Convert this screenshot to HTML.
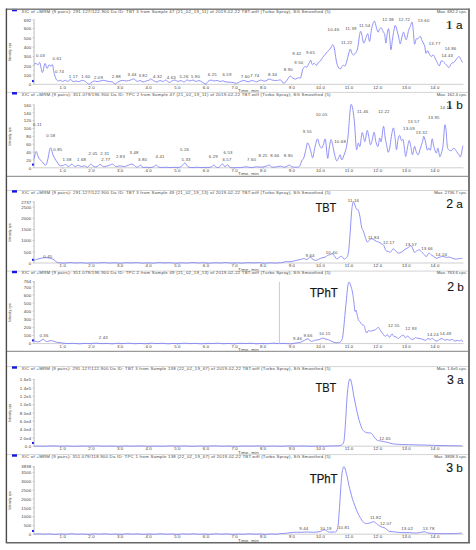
<!DOCTYPE html>
<html><head><meta charset="utf-8"><title>Chromatograms</title>
<style>html,body{margin:0;padding:0;background:#fff;}body{width:476px;height:550px;overflow:hidden;}svg{display:block;font-family:"Liberation Sans",sans-serif;}</style>
</head><body>
<svg width="476" height="550" viewBox="0 0 476 550">
<rect x="0" y="0" width="476" height="550" fill="#fff"/>
<line x1="6" y1="9.2" x2="469" y2="9.2" stroke="#d4d4d4" stroke-width="1"/>
<rect x="12" y="8.9" width="5" height="2.4" fill="#1414e6"/>
<text x="21.5" y="12.5" font-size="4.3" fill="#484848" textLength="309" lengthAdjust="spacing">XIC of +MRM (9 pairs): 291.127/122.900 Da ID: TBT 3 from Sample 47 (21_02_19_11) of 2019-02-22 TBT.wiff (Turbo Spray), SG Smoothed (5)</text>
<text x="467" y="12.5" font-size="4.3" fill="#484848" text-anchor="end">Max. 692.2 cps.</text>
<line x1="34.1" y1="19.4" x2="34.1" y2="84.3" stroke="#d0d0d0" stroke-width="1.4"/>
<line x1="33.2" y1="79.6" x2="34.2" y2="79.6" stroke="#b8b8b8" stroke-width="0.6"/>
<line x1="33.2" y1="70.3" x2="34.2" y2="70.3" stroke="#b8b8b8" stroke-width="0.6"/>
<line x1="33.2" y1="61.0" x2="34.2" y2="61.0" stroke="#b8b8b8" stroke-width="0.6"/>
<line x1="33.2" y1="51.7" x2="34.2" y2="51.7" stroke="#b8b8b8" stroke-width="0.6"/>
<line x1="33.2" y1="42.4" x2="34.2" y2="42.4" stroke="#b8b8b8" stroke-width="0.6"/>
<line x1="33.2" y1="33.1" x2="34.2" y2="33.1" stroke="#b8b8b8" stroke-width="0.6"/>
<line x1="33.2" y1="23.8" x2="34.2" y2="23.8" stroke="#b8b8b8" stroke-width="0.6"/>
<line x1="34.2" y1="84.3" x2="463.5" y2="84.3" stroke="#cfcfcf" stroke-width="1"/>
<line x1="32.6" y1="19.9" x2="34.2" y2="19.9" stroke="#b0b0b0" stroke-width="0.7"/>
<text x="31.3" y="21.7" font-size="4.3" fill="#3a3a3a" text-anchor="end" letter-spacing="0.15">692</text>
<line x1="32.6" y1="28.5" x2="34.2" y2="28.5" stroke="#b0b0b0" stroke-width="0.7"/>
<text x="31.3" y="30.3" font-size="4.3" fill="#3a3a3a" text-anchor="end" letter-spacing="0.15">600</text>
<line x1="32.6" y1="37.8" x2="34.2" y2="37.8" stroke="#b0b0b0" stroke-width="0.7"/>
<text x="31.3" y="39.6" font-size="4.3" fill="#3a3a3a" text-anchor="end" letter-spacing="0.15">500</text>
<line x1="32.6" y1="47.1" x2="34.2" y2="47.1" stroke="#b0b0b0" stroke-width="0.7"/>
<text x="31.3" y="48.9" font-size="4.3" fill="#3a3a3a" text-anchor="end" letter-spacing="0.15">400</text>
<line x1="32.6" y1="56.4" x2="34.2" y2="56.4" stroke="#b0b0b0" stroke-width="0.7"/>
<text x="31.3" y="58.2" font-size="4.3" fill="#3a3a3a" text-anchor="end" letter-spacing="0.15">300</text>
<line x1="32.6" y1="65.7" x2="34.2" y2="65.7" stroke="#b0b0b0" stroke-width="0.7"/>
<text x="31.3" y="67.5" font-size="4.3" fill="#3a3a3a" text-anchor="end" letter-spacing="0.15">200</text>
<line x1="32.6" y1="75.0" x2="34.2" y2="75.0" stroke="#b0b0b0" stroke-width="0.7"/>
<text x="31.3" y="76.8" font-size="4.3" fill="#3a3a3a" text-anchor="end" letter-spacing="0.15">100</text>
<line x1="32.6" y1="84.3" x2="34.2" y2="84.3" stroke="#b0b0b0" stroke-width="0.7"/>
<text x="31.3" y="86.1" font-size="4.3" fill="#3a3a3a" text-anchor="end" letter-spacing="0.15">0</text>
<line x1="62.8" y1="84.3" x2="62.8" y2="85.5" stroke="#b0b0b0" stroke-width="0.7"/>
<text x="62.8" y="88.5" font-size="4.3" fill="#3a3a3a" text-anchor="middle" letter-spacing="0.15">1.0</text>
<line x1="91.5" y1="84.3" x2="91.5" y2="85.5" stroke="#b0b0b0" stroke-width="0.7"/>
<text x="91.5" y="88.5" font-size="4.3" fill="#3a3a3a" text-anchor="middle" letter-spacing="0.15">2.0</text>
<line x1="120.1" y1="84.3" x2="120.1" y2="85.5" stroke="#b0b0b0" stroke-width="0.7"/>
<text x="120.1" y="88.5" font-size="4.3" fill="#3a3a3a" text-anchor="middle" letter-spacing="0.15">3.0</text>
<line x1="148.7" y1="84.3" x2="148.7" y2="85.5" stroke="#b0b0b0" stroke-width="0.7"/>
<text x="148.7" y="88.5" font-size="4.3" fill="#3a3a3a" text-anchor="middle" letter-spacing="0.15">4.0</text>
<line x1="177.4" y1="84.3" x2="177.4" y2="85.5" stroke="#b0b0b0" stroke-width="0.7"/>
<text x="177.4" y="88.5" font-size="4.3" fill="#3a3a3a" text-anchor="middle" letter-spacing="0.15">5.0</text>
<line x1="206.0" y1="84.3" x2="206.0" y2="85.5" stroke="#b0b0b0" stroke-width="0.7"/>
<text x="206.0" y="88.5" font-size="4.3" fill="#3a3a3a" text-anchor="middle" letter-spacing="0.15">6.0</text>
<line x1="234.6" y1="84.3" x2="234.6" y2="85.5" stroke="#b0b0b0" stroke-width="0.7"/>
<text x="234.6" y="88.5" font-size="4.3" fill="#3a3a3a" text-anchor="middle" letter-spacing="0.15">7.0</text>
<line x1="263.2" y1="84.3" x2="263.2" y2="85.5" stroke="#b0b0b0" stroke-width="0.7"/>
<text x="263.2" y="88.5" font-size="4.3" fill="#3a3a3a" text-anchor="middle" letter-spacing="0.15">8.0</text>
<line x1="291.9" y1="84.3" x2="291.9" y2="85.5" stroke="#b0b0b0" stroke-width="0.7"/>
<text x="291.9" y="88.5" font-size="4.3" fill="#3a3a3a" text-anchor="middle" letter-spacing="0.15">9.0</text>
<line x1="320.5" y1="84.3" x2="320.5" y2="85.5" stroke="#b0b0b0" stroke-width="0.7"/>
<text x="320.5" y="88.5" font-size="4.3" fill="#3a3a3a" text-anchor="middle" letter-spacing="0.15">10.0</text>
<line x1="349.1" y1="84.3" x2="349.1" y2="85.5" stroke="#b0b0b0" stroke-width="0.7"/>
<text x="349.1" y="88.5" font-size="4.3" fill="#3a3a3a" text-anchor="middle" letter-spacing="0.15">11.0</text>
<line x1="377.8" y1="84.3" x2="377.8" y2="85.5" stroke="#b0b0b0" stroke-width="0.7"/>
<text x="377.8" y="88.5" font-size="4.3" fill="#3a3a3a" text-anchor="middle" letter-spacing="0.15">12.0</text>
<line x1="406.4" y1="84.3" x2="406.4" y2="85.5" stroke="#b0b0b0" stroke-width="0.7"/>
<text x="406.4" y="88.5" font-size="4.3" fill="#3a3a3a" text-anchor="middle" letter-spacing="0.15">13.0</text>
<line x1="435.0" y1="84.3" x2="435.0" y2="85.5" stroke="#b0b0b0" stroke-width="0.7"/>
<text x="435.0" y="88.5" font-size="4.3" fill="#3a3a3a" text-anchor="middle" letter-spacing="0.15">14.0</text>
<text x="248.5" y="91.8" font-size="4.4" fill="#444" text-anchor="middle" letter-spacing="0.2">Time, min</text>
<text x="0" y="0" font-size="3.3" fill="#222" text-anchor="middle" textLength="18.2" lengthAdjust="spacingAndGlyphs" transform="translate(10.9,52.1) rotate(-90)">Intensity, cps</text>
<path d="M34.00,64.20C34.35,64.08 35.40,63.40 36.10,63.50C36.80,63.60 37.57,64.93 38.20,64.80C38.83,64.67 39.20,61.40 39.90,62.70C40.60,64.00 41.57,72.47 42.40,72.60C43.23,72.73 44.13,64.20 44.90,63.50C45.67,62.80 46.30,68.18 47.00,68.40C47.70,68.62 48.47,65.15 49.10,64.80C49.73,64.45 50.23,66.30 50.80,66.30C51.37,66.30 51.97,63.75 52.50,64.80C53.03,65.85 53.42,70.25 54.00,72.60C54.58,74.95 55.30,77.50 56.00,78.90C56.70,80.30 57.48,80.77 58.20,81.00C58.92,81.23 59.60,80.23 60.30,80.30C61.00,80.37 61.53,81.40 62.40,81.40C63.27,81.40 64.63,80.30 65.50,80.30C66.37,80.30 66.72,81.53 67.60,81.40C68.48,81.27 69.92,79.47 70.80,79.50C71.68,79.53 72.03,81.35 72.90,81.60C73.77,81.85 74.95,81.00 76.00,81.00C77.05,81.00 78.15,81.72 79.20,81.60C80.25,81.48 81.25,80.30 82.30,80.30C83.35,80.30 84.45,80.97 85.50,81.60C86.55,82.23 87.73,83.87 88.60,84.10C89.47,84.33 89.82,83.52 90.70,83.00C91.58,82.48 92.85,81.23 93.90,81.00C94.95,80.77 95.95,81.60 97.00,81.60C98.05,81.60 99.15,81.22 100.20,81.00C101.25,80.78 102.25,80.30 103.30,80.30C104.35,80.30 105.45,80.78 106.50,81.00C107.55,81.22 108.55,81.43 109.60,81.60C110.65,81.77 111.92,81.58 112.80,82.00C113.68,82.42 114.03,84.10 114.90,84.10C115.77,84.10 116.78,82.63 118.00,82.00C119.22,81.37 120.80,80.47 122.20,80.30C123.60,80.13 125.00,81.05 126.40,81.00C127.80,80.95 129.33,80.35 130.60,80.00C131.87,79.65 132.93,78.65 134.00,78.90C135.07,79.15 136.00,81.23 137.00,81.50C138.00,81.77 139.00,80.42 140.00,80.50C141.00,80.58 142.00,81.92 143.00,82.00C144.00,82.08 145.00,81.30 146.00,81.00C147.00,80.70 148.17,80.53 149.00,80.20C149.83,79.87 150.17,78.87 151.00,79.00C151.83,79.13 153.00,80.50 154.00,81.00C155.00,81.50 156.00,82.08 157.00,82.00C158.00,81.92 159.00,80.58 160.00,80.50C161.00,80.42 162.00,81.58 163.00,81.50C164.00,81.42 165.00,79.83 166.00,80.00C167.00,80.17 168.00,82.33 169.00,82.50C170.00,82.67 171.00,81.42 172.00,81.00C173.00,80.58 174.00,79.92 175.00,80.00C176.00,80.08 177.00,81.42 178.00,81.50C179.00,81.58 180.00,80.42 181.00,80.50C182.00,80.58 183.00,82.08 184.00,82.00C185.00,81.92 186.00,80.17 187.00,80.00C188.00,79.83 189.00,81.00 190.00,81.00C191.00,81.00 192.00,79.92 193.00,80.00C194.00,80.08 195.00,81.42 196.00,81.50C197.00,81.58 198.00,80.42 199.00,80.50C200.00,80.58 200.90,81.42 202.00,82.00C203.10,82.58 204.60,84.08 205.60,84.00C206.60,83.92 207.10,82.17 208.00,81.50C208.90,80.83 210.00,80.08 211.00,80.00C212.00,79.92 213.00,80.92 214.00,81.00C215.00,81.08 216.00,80.42 217.00,80.50C218.00,80.58 219.00,81.45 220.00,81.50C221.00,81.55 222.17,80.75 223.00,80.80C223.83,80.85 223.97,81.57 225.00,81.80C226.03,82.03 227.80,82.07 229.20,82.20C230.60,82.33 232.17,82.42 233.40,82.60C234.63,82.78 235.55,83.43 236.60,83.30C237.65,83.17 238.48,82.27 239.70,81.80C240.92,81.33 242.50,80.50 243.90,80.50C245.30,80.50 246.70,81.80 248.10,81.80C249.50,81.80 250.90,80.50 252.30,80.50C253.70,80.50 255.10,81.87 256.50,81.80C257.90,81.73 259.30,80.20 260.70,80.10C262.10,80.00 263.50,81.37 264.90,81.20C266.30,81.03 267.87,79.28 269.10,79.10C270.33,78.92 271.07,79.87 272.30,80.10C273.53,80.33 275.10,80.50 276.50,80.50C277.90,80.50 279.48,79.63 280.70,80.10C281.92,80.57 282.75,83.30 283.80,83.30C284.85,83.30 285.95,81.33 287.00,80.10C288.05,78.87 289.17,76.25 290.10,75.90C291.03,75.55 291.72,77.47 292.60,78.00C293.48,78.53 294.42,79.17 295.40,79.10C296.38,79.03 297.63,77.78 298.50,77.60C299.37,77.42 299.90,79.33 300.60,78.00C301.30,76.67 302.00,71.52 302.70,69.60C303.40,67.68 304.10,66.92 304.80,66.50C305.50,66.08 306.20,67.63 306.90,67.10C307.60,66.57 308.37,64.45 309.00,63.30C309.63,62.15 310.17,60.02 310.70,60.20C311.23,60.38 311.60,63.88 312.20,64.40C312.80,64.92 313.60,63.13 314.30,63.30C315.00,63.47 315.70,65.57 316.40,65.40C317.10,65.23 317.85,63.03 318.50,62.30C319.15,61.57 319.62,61.80 320.30,61.00C320.98,60.20 321.82,58.58 322.60,57.50C323.38,56.42 324.17,55.50 325.00,54.50C325.83,53.50 326.75,52.42 327.60,51.50C328.45,50.58 329.27,50.12 330.10,49.00C330.93,47.88 331.90,44.95 332.60,44.80C333.30,44.65 333.73,45.72 334.30,48.10C334.87,50.48 335.45,56.15 336.00,59.10C336.55,62.05 336.90,64.13 337.60,65.80C338.30,67.47 339.50,68.97 340.20,69.10C340.90,69.23 341.25,67.22 341.80,66.60C342.35,65.98 342.93,65.53 343.50,65.40C344.07,65.27 344.63,66.58 345.20,65.80C345.77,65.02 346.33,62.67 346.90,60.70C347.47,58.73 348.03,55.95 348.60,54.00C349.17,52.05 349.75,49.13 350.30,49.00C350.85,48.87 351.35,52.22 351.90,53.20C352.45,54.18 352.90,55.05 353.60,54.90C354.30,54.75 355.40,53.57 356.10,52.30C356.80,51.03 357.23,50.10 357.80,47.30C358.37,44.50 359.02,38.17 359.50,35.50C359.98,32.83 360.28,31.30 360.70,31.30C361.12,31.30 361.50,33.53 362.00,35.50C362.50,37.47 363.00,42.82 363.70,43.10C364.40,43.38 365.50,38.75 366.20,37.20C366.90,35.65 367.33,33.10 367.90,33.80C368.47,34.50 369.03,41.95 369.60,41.40C370.17,40.85 370.75,33.43 371.30,30.50C371.85,27.57 372.35,25.35 372.90,23.80C373.45,22.25 374.03,20.65 374.60,21.20C375.17,21.75 375.73,25.27 376.30,27.10C376.87,28.93 377.43,31.92 378.00,32.20C378.57,32.48 379.15,29.50 379.70,28.80C380.25,28.10 380.75,27.58 381.30,28.00C381.85,28.42 382.43,30.18 383.00,31.30C383.57,32.42 384.22,32.73 384.70,34.70C385.18,36.67 385.48,43.25 385.90,43.10C386.32,42.95 386.75,36.18 387.20,33.80C387.65,31.42 388.18,28.23 388.60,28.80C389.02,29.37 389.32,33.70 389.70,37.20C390.08,40.70 390.47,49.23 390.90,49.80C391.33,50.37 391.80,43.82 392.30,40.60C392.80,37.38 393.40,33.03 393.90,30.50C394.40,27.97 394.78,25.40 395.30,25.40C395.82,25.40 396.43,28.53 397.00,30.50C397.57,32.47 398.17,34.97 398.70,37.20C399.23,39.43 399.67,43.90 400.20,43.90C400.73,43.90 401.33,39.15 401.90,37.20C402.47,35.25 402.90,31.78 403.60,32.20C404.30,32.62 405.27,39.98 406.10,39.70C406.93,39.42 407.90,32.73 408.60,30.50C409.30,28.27 409.73,27.70 410.30,26.30C410.87,24.90 411.53,21.68 412.00,22.10C412.47,22.52 412.68,25.17 413.10,28.80C413.52,32.43 413.98,42.22 414.50,43.90C415.02,45.58 415.65,39.73 416.20,38.90C416.75,38.07 417.10,39.32 417.80,38.90C418.50,38.48 419.70,36.12 420.40,36.40C421.10,36.68 421.30,39.07 422.00,40.60C422.70,42.13 423.95,43.50 424.60,45.60C425.25,47.70 425.40,52.35 425.90,53.20C426.40,54.05 427.03,50.57 427.60,50.70C428.17,50.83 428.68,53.03 429.30,54.00C429.92,54.97 430.63,56.35 431.30,56.50C431.97,56.65 432.60,54.47 433.30,54.90C434.00,55.33 434.85,57.85 435.50,59.10C436.15,60.35 436.55,61.28 437.20,62.40C437.85,63.52 438.70,66.08 439.40,65.80C440.10,65.52 440.65,61.27 441.40,60.70C442.15,60.13 443.07,61.70 443.90,62.40C444.73,63.10 445.57,64.05 446.40,64.90C447.23,65.75 448.05,67.77 448.90,67.50C449.75,67.23 450.65,64.15 451.50,63.30C452.35,62.45 453.17,63.10 454.00,62.40C454.83,61.70 455.67,60.08 456.50,59.10C457.33,58.12 458.30,56.50 459.00,56.50C459.70,56.50 460.13,58.12 460.70,59.10C461.27,60.08 462.12,61.85 462.40,62.40" fill="none" stroke="#8484f6" stroke-width="0.9" stroke-linejoin="round"/>
<rect x="32" y="80.1" width="1.8" height="2" fill="#1414e6"/>
<text x="36.0" y="56.7" font-size="4.3" fill="#4a4a4a" letter-spacing="0.18">0.03</text>
<text x="52.5" y="60.0" font-size="4.3" fill="#4a4a4a" letter-spacing="0.18">0.61</text>
<text x="55.0" y="73.0" font-size="4.3" fill="#4a4a4a" letter-spacing="0.18">0.74</text>
<text x="68.7" y="77.6" font-size="4.3" fill="#4a4a4a" letter-spacing="0.18">1.17</text>
<text x="81.3" y="77.6" font-size="4.3" fill="#4a4a4a" letter-spacing="0.18">1.60</text>
<text x="93.9" y="78.9" font-size="4.3" fill="#4a4a4a" letter-spacing="0.18">2.09</text>
<text x="111.7" y="77.6" font-size="4.3" fill="#4a4a4a" letter-spacing="0.18">2.88</text>
<text x="127.5" y="76.0" font-size="4.3" fill="#4a4a4a" letter-spacing="0.18">3.44</text>
<text x="138.4" y="76.8" font-size="4.3" fill="#4a4a4a" letter-spacing="0.18">3.82</text>
<text x="153.1" y="77.8" font-size="4.3" fill="#4a4a4a" letter-spacing="0.18">4.32</text>
<text x="166.8" y="79.3" font-size="4.3" fill="#4a4a4a" letter-spacing="0.18">4.63</text>
<text x="179.4" y="78.3" font-size="4.3" fill="#4a4a4a" letter-spacing="0.18">5.26</text>
<text x="190.9" y="77.6" font-size="4.3" fill="#4a4a4a" letter-spacing="0.18">5.90</text>
<text x="207.7" y="75.7" font-size="4.3" fill="#4a4a4a" letter-spacing="0.18">6.25</text>
<text x="222.4" y="76.0" font-size="4.3" fill="#4a4a4a" letter-spacing="0.18">6.59</text>
<text x="240.8" y="77.8" font-size="4.3" fill="#4a4a4a" letter-spacing="0.18">7.60</text>
<text x="250.2" y="77.0" font-size="4.3" fill="#4a4a4a" letter-spacing="0.18">7.74</text>
<text x="268.0" y="76.4" font-size="4.3" fill="#4a4a4a" letter-spacing="0.18">8.34</text>
<text x="283.8" y="70.7" font-size="4.3" fill="#4a4a4a" letter-spacing="0.18">8.90</text>
<text x="292.2" y="54.9" font-size="4.3" fill="#4a4a4a" letter-spacing="0.18">9.42</text>
<text x="305.9" y="54.3" font-size="4.3" fill="#4a4a4a" letter-spacing="0.18">9.65</text>
<text x="294.3" y="64.4" font-size="4.3" fill="#4a4a4a" letter-spacing="0.18">9.50</text>
<text x="327.6" y="31.1" font-size="4.3" fill="#4a4a4a" letter-spacing="0.18">10.46</text>
<text x="341.0" y="44.1" font-size="4.3" fill="#4a4a4a" letter-spacing="0.18">11.22</text>
<text x="345.2" y="29.5" font-size="4.3" fill="#4a4a4a" letter-spacing="0.18">11.39</text>
<text x="359.0" y="26.9" font-size="4.3" fill="#4a4a4a" letter-spacing="0.18">11.54</text>
<text x="382.2" y="20.6" font-size="4.3" fill="#4a4a4a" letter-spacing="0.18">12.38</text>
<text x="398.5" y="20.6" font-size="4.3" fill="#4a4a4a" letter-spacing="0.18">12.72</text>
<text x="417.8" y="21.9" font-size="4.3" fill="#4a4a4a" letter-spacing="0.18">13.60</text>
<text x="428.8" y="44.6" font-size="4.3" fill="#4a4a4a" letter-spacing="0.18">13.77</text>
<text x="444.7" y="49.6" font-size="4.3" fill="#4a4a4a" letter-spacing="0.18">14.86</text>
<text x="441.4" y="56.9" font-size="4.3" fill="#4a4a4a" letter-spacing="0.18">14.43</text>
<text x="445.56" y="28.5" font-family="Liberation Serif" font-size="12.9" fill="#151515" stroke="#151515" stroke-width="0.12" textLength="7.61" lengthAdjust="spacingAndGlyphs">1</text>
<text x="456.05" y="28.5" font-size="11.8" fill="#151515" stroke="#151515" stroke-width="0.12">a</text>
<line x1="6" y1="92.4" x2="469" y2="92.4" stroke="#d4d4d4" stroke-width="1"/>
<rect x="12" y="92.1" width="5" height="2.4" fill="#1414e6"/>
<text x="21.5" y="95.7" font-size="4.3" fill="#484848" textLength="309" lengthAdjust="spacing">XIC of +MRM (9 pairs): 351.079/196.900 Da ID: TPC 2 from Sample 47 (21_02_19_11) of 2019-02-22 TBT.wiff (Turbo Spray), SG Smoothed (5)</text>
<text x="467" y="95.7" font-size="4.3" fill="#484848" text-anchor="end">Max. 162.4 cps.</text>
<line x1="34.1" y1="104.4" x2="34.1" y2="167.8" stroke="#d0d0d0" stroke-width="1.4"/>
<line x1="33.2" y1="163.9" x2="34.2" y2="163.9" stroke="#b8b8b8" stroke-width="0.6"/>
<line x1="33.2" y1="156.0" x2="34.2" y2="156.0" stroke="#b8b8b8" stroke-width="0.6"/>
<line x1="33.2" y1="148.1" x2="34.2" y2="148.1" stroke="#b8b8b8" stroke-width="0.6"/>
<line x1="33.2" y1="140.3" x2="34.2" y2="140.3" stroke="#b8b8b8" stroke-width="0.6"/>
<line x1="33.2" y1="132.4" x2="34.2" y2="132.4" stroke="#b8b8b8" stroke-width="0.6"/>
<line x1="33.2" y1="124.6" x2="34.2" y2="124.6" stroke="#b8b8b8" stroke-width="0.6"/>
<line x1="33.2" y1="116.7" x2="34.2" y2="116.7" stroke="#b8b8b8" stroke-width="0.6"/>
<line x1="33.2" y1="108.8" x2="34.2" y2="108.8" stroke="#b8b8b8" stroke-width="0.6"/>
<line x1="34.2" y1="167.8" x2="463.5" y2="167.8" stroke="#cfcfcf" stroke-width="1"/>
<line x1="32.6" y1="104.9" x2="34.2" y2="104.9" stroke="#b0b0b0" stroke-width="0.7"/>
<text x="31.3" y="106.7" font-size="4.3" fill="#3a3a3a" text-anchor="end" letter-spacing="0.15">160</text>
<line x1="32.6" y1="112.8" x2="34.2" y2="112.8" stroke="#b0b0b0" stroke-width="0.7"/>
<text x="31.3" y="114.6" font-size="4.3" fill="#3a3a3a" text-anchor="end" letter-spacing="0.15">140</text>
<line x1="32.6" y1="120.6" x2="34.2" y2="120.6" stroke="#b0b0b0" stroke-width="0.7"/>
<text x="31.3" y="122.4" font-size="4.3" fill="#3a3a3a" text-anchor="end" letter-spacing="0.15">120</text>
<line x1="32.6" y1="128.5" x2="34.2" y2="128.5" stroke="#b0b0b0" stroke-width="0.7"/>
<text x="31.3" y="130.3" font-size="4.3" fill="#3a3a3a" text-anchor="end" letter-spacing="0.15">100</text>
<line x1="32.6" y1="136.4" x2="34.2" y2="136.4" stroke="#b0b0b0" stroke-width="0.7"/>
<text x="31.3" y="138.2" font-size="4.3" fill="#3a3a3a" text-anchor="end" letter-spacing="0.15">80</text>
<line x1="32.6" y1="144.2" x2="34.2" y2="144.2" stroke="#b0b0b0" stroke-width="0.7"/>
<text x="31.3" y="146.0" font-size="4.3" fill="#3a3a3a" text-anchor="end" letter-spacing="0.15">60</text>
<line x1="32.6" y1="152.1" x2="34.2" y2="152.1" stroke="#b0b0b0" stroke-width="0.7"/>
<text x="31.3" y="153.9" font-size="4.3" fill="#3a3a3a" text-anchor="end" letter-spacing="0.15">40</text>
<line x1="32.6" y1="159.9" x2="34.2" y2="159.9" stroke="#b0b0b0" stroke-width="0.7"/>
<text x="31.3" y="161.7" font-size="4.3" fill="#3a3a3a" text-anchor="end" letter-spacing="0.15">20</text>
<line x1="32.6" y1="167.8" x2="34.2" y2="167.8" stroke="#b0b0b0" stroke-width="0.7"/>
<text x="31.3" y="169.6" font-size="4.3" fill="#3a3a3a" text-anchor="end" letter-spacing="0.15">0</text>
<line x1="62.8" y1="167.8" x2="62.8" y2="169.0" stroke="#b0b0b0" stroke-width="0.7"/>
<text x="62.8" y="172.0" font-size="4.3" fill="#3a3a3a" text-anchor="middle" letter-spacing="0.15">1.0</text>
<line x1="91.5" y1="167.8" x2="91.5" y2="169.0" stroke="#b0b0b0" stroke-width="0.7"/>
<text x="91.5" y="172.0" font-size="4.3" fill="#3a3a3a" text-anchor="middle" letter-spacing="0.15">2.0</text>
<line x1="120.1" y1="167.8" x2="120.1" y2="169.0" stroke="#b0b0b0" stroke-width="0.7"/>
<text x="120.1" y="172.0" font-size="4.3" fill="#3a3a3a" text-anchor="middle" letter-spacing="0.15">3.0</text>
<line x1="148.7" y1="167.8" x2="148.7" y2="169.0" stroke="#b0b0b0" stroke-width="0.7"/>
<text x="148.7" y="172.0" font-size="4.3" fill="#3a3a3a" text-anchor="middle" letter-spacing="0.15">4.0</text>
<line x1="177.4" y1="167.8" x2="177.4" y2="169.0" stroke="#b0b0b0" stroke-width="0.7"/>
<text x="177.4" y="172.0" font-size="4.3" fill="#3a3a3a" text-anchor="middle" letter-spacing="0.15">5.0</text>
<line x1="206.0" y1="167.8" x2="206.0" y2="169.0" stroke="#b0b0b0" stroke-width="0.7"/>
<text x="206.0" y="172.0" font-size="4.3" fill="#3a3a3a" text-anchor="middle" letter-spacing="0.15">6.0</text>
<line x1="234.6" y1="167.8" x2="234.6" y2="169.0" stroke="#b0b0b0" stroke-width="0.7"/>
<text x="234.6" y="172.0" font-size="4.3" fill="#3a3a3a" text-anchor="middle" letter-spacing="0.15">7.0</text>
<line x1="263.2" y1="167.8" x2="263.2" y2="169.0" stroke="#b0b0b0" stroke-width="0.7"/>
<text x="263.2" y="172.0" font-size="4.3" fill="#3a3a3a" text-anchor="middle" letter-spacing="0.15">8.0</text>
<line x1="291.9" y1="167.8" x2="291.9" y2="169.0" stroke="#b0b0b0" stroke-width="0.7"/>
<text x="291.9" y="172.0" font-size="4.3" fill="#3a3a3a" text-anchor="middle" letter-spacing="0.15">9.0</text>
<line x1="320.5" y1="167.8" x2="320.5" y2="169.0" stroke="#b0b0b0" stroke-width="0.7"/>
<text x="320.5" y="172.0" font-size="4.3" fill="#3a3a3a" text-anchor="middle" letter-spacing="0.15">10.0</text>
<line x1="349.1" y1="167.8" x2="349.1" y2="169.0" stroke="#b0b0b0" stroke-width="0.7"/>
<text x="349.1" y="172.0" font-size="4.3" fill="#3a3a3a" text-anchor="middle" letter-spacing="0.15">11.0</text>
<line x1="377.8" y1="167.8" x2="377.8" y2="169.0" stroke="#b0b0b0" stroke-width="0.7"/>
<text x="377.8" y="172.0" font-size="4.3" fill="#3a3a3a" text-anchor="middle" letter-spacing="0.15">12.0</text>
<line x1="406.4" y1="167.8" x2="406.4" y2="169.0" stroke="#b0b0b0" stroke-width="0.7"/>
<text x="406.4" y="172.0" font-size="4.3" fill="#3a3a3a" text-anchor="middle" letter-spacing="0.15">13.0</text>
<line x1="435.0" y1="167.8" x2="435.0" y2="169.0" stroke="#b0b0b0" stroke-width="0.7"/>
<text x="435.0" y="172.0" font-size="4.3" fill="#3a3a3a" text-anchor="middle" letter-spacing="0.15">14.0</text>
<text x="248.5" y="175.3" font-size="4.4" fill="#444" text-anchor="middle" letter-spacing="0.2">Time, min</text>
<text x="0" y="0" font-size="3.3" fill="#222" text-anchor="middle" textLength="18.2" lengthAdjust="spacingAndGlyphs" transform="translate(10.9,136.4) rotate(-90)">Intensity, cps</text>
<path d="M34.00,158.90C34.35,157.67 35.40,151.85 36.10,151.50C36.80,151.15 37.50,155.40 38.20,156.80C38.90,158.20 39.60,159.03 40.30,159.90C41.00,160.77 41.52,161.12 42.40,162.00C43.28,162.88 44.72,165.55 45.60,165.20C46.48,164.85 47.00,162.53 47.70,159.90C48.40,157.27 49.22,151.32 49.80,149.40C50.38,147.48 50.68,147.52 51.20,148.40C51.72,149.28 52.27,152.95 52.90,154.70C53.53,156.45 54.30,157.68 55.00,158.90C55.70,160.12 56.40,160.95 57.10,162.00C57.80,163.05 58.32,164.57 59.20,165.20C60.08,165.83 61.35,165.92 62.40,165.80C63.45,165.68 64.45,164.37 65.50,164.50C66.55,164.63 67.65,166.67 68.70,166.60C69.75,166.53 70.75,164.10 71.80,164.10C72.85,164.10 73.95,166.42 75.00,166.60C76.05,166.78 77.05,165.20 78.10,165.20C79.15,165.20 80.25,166.50 81.30,166.60C82.35,166.70 83.35,165.68 84.40,165.80C85.45,165.92 86.55,167.58 87.60,167.30C88.65,167.02 89.65,164.22 90.70,164.10C91.75,163.98 92.85,166.18 93.90,166.60C94.95,167.02 95.95,166.95 97.00,166.60C98.05,166.25 99.15,164.50 100.20,164.50C101.25,164.50 102.25,166.32 103.30,166.60C104.35,166.88 105.45,166.43 106.50,166.20C107.55,165.97 108.55,165.55 109.60,165.20C110.65,164.85 111.75,163.87 112.80,164.10C113.85,164.33 114.68,166.32 115.90,166.60C117.12,166.88 118.70,165.80 120.10,165.80C121.50,165.80 122.90,166.70 124.30,166.60C125.70,166.50 127.27,165.62 128.50,165.20C129.73,164.78 130.78,164.10 131.70,164.10C132.62,164.10 133.12,164.67 134.00,165.20C134.88,165.73 135.92,167.30 137.00,167.30C138.08,167.30 139.50,165.17 140.50,165.20C141.50,165.23 141.92,167.17 143.00,167.50C144.08,167.83 145.67,167.18 147.00,167.20C148.33,167.22 149.83,167.72 151.00,167.60C152.17,167.48 153.12,166.93 154.00,166.50C154.88,166.07 155.55,164.92 156.30,165.00C157.05,165.08 157.55,166.58 158.50,167.00C159.45,167.42 160.75,167.47 162.00,167.50C163.25,167.53 164.67,167.18 166.00,167.20C167.33,167.22 168.67,167.58 170.00,167.60C171.33,167.62 172.67,167.32 174.00,167.30C175.33,167.28 176.83,167.58 178.00,167.50C179.17,167.42 180.17,167.30 181.00,166.80C181.83,166.30 182.33,165.13 183.00,164.50C183.67,163.87 184.33,162.83 185.00,163.00C185.67,163.17 186.33,164.78 187.00,165.50C187.67,166.22 188.00,166.95 189.00,167.30C190.00,167.65 191.67,167.62 193.00,167.60C194.33,167.58 195.67,167.20 197.00,167.20C198.33,167.20 199.67,167.58 201.00,167.60C202.33,167.62 203.67,167.32 205.00,167.30C206.33,167.28 207.83,167.63 209.00,167.50C210.17,167.37 211.17,166.92 212.00,166.50C212.83,166.08 213.33,164.92 214.00,165.00C214.67,165.08 215.17,166.62 216.00,167.00C216.83,167.38 217.93,167.80 219.00,167.30C220.07,166.80 221.40,164.08 222.40,164.00C223.40,163.92 224.15,166.68 225.00,166.80C225.85,166.92 226.62,164.57 227.50,164.70C228.38,164.83 228.97,167.12 230.30,167.60C231.63,168.08 233.75,167.60 235.50,167.60C237.25,167.60 239.05,167.73 240.80,167.60C242.55,167.47 244.25,166.80 246.00,166.80C247.75,166.80 249.55,167.60 251.30,167.60C253.05,167.60 254.75,166.87 256.50,166.80C258.25,166.73 260.22,167.30 261.80,167.20C263.38,167.10 264.78,166.55 266.00,166.20C267.22,165.85 268.05,164.93 269.10,165.10C270.15,165.27 271.07,166.92 272.30,167.20C273.53,167.48 275.10,166.97 276.50,166.80C277.90,166.63 279.30,166.13 280.70,166.20C282.10,166.27 283.50,167.38 284.90,167.20C286.30,167.02 287.88,165.17 289.10,165.10C290.32,165.03 290.98,166.45 292.20,166.80C293.42,167.15 295.17,167.30 296.40,167.20C297.63,167.10 298.72,167.25 299.60,166.20C300.48,165.15 301.00,162.30 301.70,160.90C302.40,159.50 303.10,159.72 303.80,157.80C304.50,155.88 305.30,151.85 305.90,149.40C306.50,146.95 306.88,143.80 307.40,143.10C307.92,142.40 308.38,143.63 309.00,145.20C309.62,146.77 310.47,150.40 311.10,152.50C311.73,154.60 312.17,158.67 312.80,157.80C313.43,156.93 314.13,150.45 314.90,147.30C315.67,144.15 316.63,139.25 317.40,138.90C318.17,138.55 318.78,143.67 319.50,145.20C320.22,146.73 321.05,148.18 321.70,148.10C322.35,148.02 322.78,146.15 323.40,144.70C324.02,143.25 324.70,137.15 325.40,139.40C326.10,141.65 326.97,156.75 327.60,158.20C328.23,159.65 328.65,151.18 329.20,148.10C329.75,145.02 330.33,140.27 330.90,139.70C331.47,139.13 332.03,142.47 332.60,144.70C333.17,146.93 333.65,150.43 334.30,153.10C334.95,155.77 335.80,159.85 336.50,160.70C337.20,161.55 337.88,159.18 338.50,158.20C339.12,157.22 339.65,154.52 340.20,154.80C340.75,155.08 341.10,160.03 341.80,159.90C342.50,159.77 343.60,156.25 344.40,154.00C345.20,151.75 345.97,149.62 346.60,146.40C347.23,143.18 347.65,140.30 348.20,134.70C348.75,129.10 349.42,117.85 349.90,112.80C350.38,107.75 350.62,104.97 351.10,104.40C351.58,103.83 352.23,106.32 352.80,109.40C353.37,112.48 354.03,117.85 354.50,122.90C354.97,127.95 355.25,135.22 355.60,139.70C355.95,144.18 356.15,149.23 356.60,149.80C357.05,150.37 357.73,143.67 358.30,143.10C358.87,142.53 359.38,148.08 360.00,146.40C360.62,144.72 361.43,134.68 362.00,133.00C362.57,131.32 362.90,134.90 363.40,136.30C363.90,137.70 364.38,142.37 365.00,141.40C365.62,140.43 366.48,131.35 367.10,130.50C367.72,129.65 368.15,133.93 368.70,136.30C369.25,138.67 369.83,144.00 370.40,144.70C370.97,145.40 371.48,142.60 372.10,140.50C372.72,138.40 373.48,131.95 374.10,132.10C374.72,132.25 375.15,139.02 375.80,141.40C376.45,143.78 377.35,146.97 378.00,146.40C378.65,145.83 379.15,138.83 379.70,138.00C380.25,137.17 380.67,143.35 381.30,141.40C381.93,139.45 382.85,126.87 383.50,126.30C384.15,125.73 384.63,134.65 385.20,138.00C385.77,141.35 386.42,144.02 386.90,146.40C387.38,148.78 387.63,152.02 388.10,152.30C388.57,152.58 389.15,150.77 389.70,148.10C390.25,145.43 390.78,139.67 391.40,136.30C392.02,132.93 392.78,127.62 393.40,127.90C394.02,128.18 394.58,134.35 395.10,138.00C395.62,141.65 396.02,149.52 396.50,149.80C396.98,150.08 397.47,142.08 398.00,139.70C398.53,137.32 399.13,135.37 399.70,135.50C400.27,135.63 400.83,139.80 401.40,140.50C401.97,141.20 402.60,138.43 403.10,139.70C403.60,140.97 403.97,145.30 404.40,148.10C404.83,150.90 405.20,156.50 405.70,156.50C406.20,156.50 406.83,150.77 407.40,148.10C407.97,145.43 408.53,140.78 409.10,140.50C409.67,140.22 410.23,144.02 410.80,146.40C411.37,148.78 411.88,154.80 412.50,154.80C413.12,154.80 413.88,146.95 414.50,146.40C415.12,145.85 415.58,150.10 416.20,151.50C416.82,152.90 417.50,155.37 418.20,154.80C418.90,154.23 419.67,150.33 420.40,148.10C421.13,145.87 422.05,143.37 422.60,141.40C423.15,139.43 423.23,136.30 423.70,136.30C424.17,136.30 424.83,139.15 425.40,141.40C425.97,143.65 426.53,148.68 427.10,149.80C427.67,150.92 428.23,148.10 428.80,148.10C429.37,148.10 429.95,151.33 430.50,149.80C431.05,148.27 431.55,139.47 432.10,138.90C432.65,138.33 433.10,144.03 433.80,146.40C434.50,148.77 435.60,152.82 436.30,153.10C437.00,153.38 437.43,147.53 438.00,148.10C438.57,148.67 439.13,155.67 439.70,156.50C440.27,157.33 440.83,155.07 441.40,153.10C441.97,151.13 442.55,149.32 443.10,144.70C443.65,140.08 444.20,127.77 444.70,125.40C445.20,123.03 445.67,127.00 446.10,130.50C446.53,134.00 446.83,143.18 447.30,146.40C447.77,149.62 448.20,149.10 448.90,149.80C449.60,150.50 450.65,150.88 451.50,150.60C452.35,150.32 453.17,147.95 454.00,148.10C454.83,148.25 455.67,150.38 456.50,151.50C457.33,152.62 458.30,153.97 459.00,154.80C459.70,155.63 460.05,158.03 460.70,156.50C461.35,154.97 462.53,147.42 462.90,145.60" fill="none" stroke="#8484f6" stroke-width="0.9" stroke-linejoin="round"/>
<rect x="32" y="163.6" width="1.8" height="2" fill="#1414e6"/>
<text x="33.0" y="125.7" font-size="4.3" fill="#4a4a4a" letter-spacing="0.18">0.11</text>
<text x="46.2" y="136.8" font-size="4.3" fill="#4a4a4a" letter-spacing="0.18">0.58</text>
<text x="53.3" y="150.5" font-size="4.3" fill="#4a4a4a" letter-spacing="0.18">0.85</text>
<text x="62.4" y="160.8" font-size="4.3" fill="#4a4a4a" letter-spacing="0.18">1.38</text>
<text x="77.1" y="160.8" font-size="4.3" fill="#4a4a4a" letter-spacing="0.18">1.68</text>
<text x="88.6" y="154.5" font-size="4.3" fill="#4a4a4a" letter-spacing="0.18">2.05</text>
<text x="100.2" y="154.5" font-size="4.3" fill="#4a4a4a" letter-spacing="0.18">2.31</text>
<text x="101.2" y="160.8" font-size="4.3" fill="#4a4a4a" letter-spacing="0.18">2.77</text>
<text x="115.9" y="157.6" font-size="4.3" fill="#4a4a4a" letter-spacing="0.18">2.83</text>
<text x="129.6" y="154.3" font-size="4.3" fill="#4a4a4a" letter-spacing="0.18">3.48</text>
<text x="138.0" y="160.8" font-size="4.3" fill="#4a4a4a" letter-spacing="0.18">3.80</text>
<text x="155.6" y="157.6" font-size="4.3" fill="#4a4a4a" letter-spacing="0.18">4.41</text>
<text x="180.0" y="150.5" font-size="4.3" fill="#4a4a4a" letter-spacing="0.18">5.26</text>
<text x="181.5" y="160.8" font-size="4.3" fill="#4a4a4a" letter-spacing="0.18">5.33</text>
<text x="208.8" y="157.6" font-size="4.3" fill="#4a4a4a" letter-spacing="0.18">6.29</text>
<text x="223.5" y="154.1" font-size="4.3" fill="#4a4a4a" letter-spacing="0.18">6.53</text>
<text x="222.4" y="160.8" font-size="4.3" fill="#4a4a4a" letter-spacing="0.18">6.57</text>
<text x="247.0" y="160.7" font-size="4.3" fill="#4a4a4a" letter-spacing="0.18">7.60</text>
<text x="258.6" y="157.2" font-size="4.3" fill="#4a4a4a" letter-spacing="0.18">8.25</text>
<text x="270.2" y="157.2" font-size="4.3" fill="#4a4a4a" letter-spacing="0.18">8.66</text>
<text x="283.8" y="157.2" font-size="4.3" fill="#4a4a4a" letter-spacing="0.18">8.90</text>
<text x="302.7" y="133.4" font-size="4.3" fill="#4a4a4a" letter-spacing="0.18">9.55</text>
<text x="315.8" y="116.1" font-size="4.3" fill="#4a4a4a" letter-spacing="0.18">10.05</text>
<text x="334.3" y="143.2" font-size="4.3" fill="#4a4a4a" letter-spacing="0.18">10.68</text>
<text x="357.0" y="112.6" font-size="4.3" fill="#4a4a4a" letter-spacing="0.18">11.46</text>
<text x="378.0" y="112.6" font-size="4.3" fill="#4a4a4a" letter-spacing="0.18">12.22</text>
<text x="440.0" y="109.3" font-size="4.3" fill="#4a4a4a" letter-spacing="0.18">14.13</text>
<text x="407.8" y="123.0" font-size="4.3" fill="#4a4a4a" letter-spacing="0.18">13.57</text>
<text x="427.9" y="119.3" font-size="4.3" fill="#4a4a4a" letter-spacing="0.18">13.95</text>
<text x="403.1" y="129.8" font-size="4.3" fill="#4a4a4a" letter-spacing="0.18">13.09</text>
<text x="415.8" y="133.6" font-size="4.3" fill="#4a4a4a" letter-spacing="0.18">13.32</text>
<text x="445.86" y="108.6" font-family="Liberation Serif" font-size="12.9" fill="#151515" stroke="#151515" stroke-width="0.12" textLength="7.61" lengthAdjust="spacingAndGlyphs">1</text>
<text x="456.25" y="108.6" font-size="11.8" fill="#151515" stroke="#151515" stroke-width="0.12">b</text>
<line x1="6" y1="190.5" x2="469" y2="190.5" stroke="#d4d4d4" stroke-width="1"/>
<rect x="12" y="190.2" width="5" height="2.4" fill="#1414e6"/>
<text x="21.5" y="193.8" font-size="4.3" fill="#484848" textLength="309" lengthAdjust="spacing">XIC of +MRM (9 pairs): 291.127/122.900 Da ID: TBT 3 from Sample 49 (21_02_19_13) of 2019-02-22 TBT.wiff (Turbo Spray), SG Smoothed (5)</text>
<text x="467" y="193.8" font-size="4.3" fill="#484848" text-anchor="end">Max. 2736.7 cps.</text>
<line x1="34.1" y1="201.3" x2="34.1" y2="263.0" stroke="#d0d0d0" stroke-width="1.4"/>
<line x1="33.2" y1="257.4" x2="34.2" y2="257.4" stroke="#b8b8b8" stroke-width="0.6"/>
<line x1="33.2" y1="246.2" x2="34.2" y2="246.2" stroke="#b8b8b8" stroke-width="0.6"/>
<line x1="33.2" y1="235.0" x2="34.2" y2="235.0" stroke="#b8b8b8" stroke-width="0.6"/>
<line x1="33.2" y1="223.9" x2="34.2" y2="223.9" stroke="#b8b8b8" stroke-width="0.6"/>
<line x1="33.2" y1="212.7" x2="34.2" y2="212.7" stroke="#b8b8b8" stroke-width="0.6"/>
<line x1="34.2" y1="263.0" x2="463.5" y2="263.0" stroke="#cfcfcf" stroke-width="1"/>
<line x1="32.6" y1="201.8" x2="34.2" y2="201.8" stroke="#b0b0b0" stroke-width="0.7"/>
<text x="31.3" y="203.6" font-size="4.3" fill="#3a3a3a" text-anchor="end" letter-spacing="0.15">2737</text>
<line x1="32.6" y1="207.1" x2="34.2" y2="207.1" stroke="#b0b0b0" stroke-width="0.7"/>
<text x="31.3" y="208.9" font-size="4.3" fill="#3a3a3a" text-anchor="end" letter-spacing="0.15">2500</text>
<line x1="32.6" y1="218.3" x2="34.2" y2="218.3" stroke="#b0b0b0" stroke-width="0.7"/>
<text x="31.3" y="220.1" font-size="4.3" fill="#3a3a3a" text-anchor="end" letter-spacing="0.15">2000</text>
<line x1="32.6" y1="229.5" x2="34.2" y2="229.5" stroke="#b0b0b0" stroke-width="0.7"/>
<text x="31.3" y="231.3" font-size="4.3" fill="#3a3a3a" text-anchor="end" letter-spacing="0.15">1500</text>
<line x1="32.6" y1="240.6" x2="34.2" y2="240.6" stroke="#b0b0b0" stroke-width="0.7"/>
<text x="31.3" y="242.4" font-size="4.3" fill="#3a3a3a" text-anchor="end" letter-spacing="0.15">1000</text>
<line x1="32.6" y1="251.8" x2="34.2" y2="251.8" stroke="#b0b0b0" stroke-width="0.7"/>
<text x="31.3" y="253.6" font-size="4.3" fill="#3a3a3a" text-anchor="end" letter-spacing="0.15">500</text>
<line x1="32.6" y1="263.0" x2="34.2" y2="263.0" stroke="#b0b0b0" stroke-width="0.7"/>
<text x="31.3" y="264.8" font-size="4.3" fill="#3a3a3a" text-anchor="end" letter-spacing="0.15">0</text>
<line x1="62.8" y1="263.0" x2="62.8" y2="264.2" stroke="#b0b0b0" stroke-width="0.7"/>
<text x="62.8" y="267.2" font-size="4.3" fill="#3a3a3a" text-anchor="middle" letter-spacing="0.15">1.0</text>
<line x1="91.5" y1="263.0" x2="91.5" y2="264.2" stroke="#b0b0b0" stroke-width="0.7"/>
<text x="91.5" y="267.2" font-size="4.3" fill="#3a3a3a" text-anchor="middle" letter-spacing="0.15">2.0</text>
<line x1="120.1" y1="263.0" x2="120.1" y2="264.2" stroke="#b0b0b0" stroke-width="0.7"/>
<text x="120.1" y="267.2" font-size="4.3" fill="#3a3a3a" text-anchor="middle" letter-spacing="0.15">3.0</text>
<line x1="148.7" y1="263.0" x2="148.7" y2="264.2" stroke="#b0b0b0" stroke-width="0.7"/>
<text x="148.7" y="267.2" font-size="4.3" fill="#3a3a3a" text-anchor="middle" letter-spacing="0.15">4.0</text>
<line x1="177.4" y1="263.0" x2="177.4" y2="264.2" stroke="#b0b0b0" stroke-width="0.7"/>
<text x="177.4" y="267.2" font-size="4.3" fill="#3a3a3a" text-anchor="middle" letter-spacing="0.15">5.0</text>
<line x1="206.0" y1="263.0" x2="206.0" y2="264.2" stroke="#b0b0b0" stroke-width="0.7"/>
<text x="206.0" y="267.2" font-size="4.3" fill="#3a3a3a" text-anchor="middle" letter-spacing="0.15">6.0</text>
<line x1="234.6" y1="263.0" x2="234.6" y2="264.2" stroke="#b0b0b0" stroke-width="0.7"/>
<text x="234.6" y="267.2" font-size="4.3" fill="#3a3a3a" text-anchor="middle" letter-spacing="0.15">7.0</text>
<line x1="263.2" y1="263.0" x2="263.2" y2="264.2" stroke="#b0b0b0" stroke-width="0.7"/>
<text x="263.2" y="267.2" font-size="4.3" fill="#3a3a3a" text-anchor="middle" letter-spacing="0.15">8.0</text>
<line x1="291.9" y1="263.0" x2="291.9" y2="264.2" stroke="#b0b0b0" stroke-width="0.7"/>
<text x="291.9" y="267.2" font-size="4.3" fill="#3a3a3a" text-anchor="middle" letter-spacing="0.15">9.0</text>
<line x1="320.5" y1="263.0" x2="320.5" y2="264.2" stroke="#b0b0b0" stroke-width="0.7"/>
<text x="320.5" y="267.2" font-size="4.3" fill="#3a3a3a" text-anchor="middle" letter-spacing="0.15">10.0</text>
<line x1="349.1" y1="263.0" x2="349.1" y2="264.2" stroke="#b0b0b0" stroke-width="0.7"/>
<text x="349.1" y="267.2" font-size="4.3" fill="#3a3a3a" text-anchor="middle" letter-spacing="0.15">11.0</text>
<line x1="377.8" y1="263.0" x2="377.8" y2="264.2" stroke="#b0b0b0" stroke-width="0.7"/>
<text x="377.8" y="267.2" font-size="4.3" fill="#3a3a3a" text-anchor="middle" letter-spacing="0.15">12.0</text>
<line x1="406.4" y1="263.0" x2="406.4" y2="264.2" stroke="#b0b0b0" stroke-width="0.7"/>
<text x="406.4" y="267.2" font-size="4.3" fill="#3a3a3a" text-anchor="middle" letter-spacing="0.15">13.0</text>
<line x1="435.0" y1="263.0" x2="435.0" y2="264.2" stroke="#b0b0b0" stroke-width="0.7"/>
<text x="435.0" y="267.2" font-size="4.3" fill="#3a3a3a" text-anchor="middle" letter-spacing="0.15">14.0</text>
<text x="248.5" y="270.5" font-size="4.4" fill="#444" text-anchor="middle" letter-spacing="0.2">Time, min</text>
<text x="0" y="0" font-size="3.3" fill="#222" text-anchor="middle" textLength="18.2" lengthAdjust="spacingAndGlyphs" transform="translate(10.9,232.4) rotate(-90)">Intensity, cps</text>
<path d="M34.00,260.50C34.67,260.25 36.25,259.47 38.00,259.00C39.75,258.53 42.50,257.83 44.50,257.70C46.50,257.57 48.42,257.85 50.00,258.20C51.58,258.55 52.82,259.10 54.00,259.80C55.18,260.50 56.10,261.89 57.10,262.40C58.10,262.91 59.02,262.74 60.00,262.85C60.98,262.96 62.00,263.03 63.00,263.06C64.00,263.09 65.00,263.10 66.00,263.04C67.00,262.98 68.00,262.76 69.00,262.70C70.00,262.64 71.00,262.63 72.00,262.67C73.00,262.71 74.00,262.90 75.00,262.94C76.00,262.98 77.00,262.93 78.00,262.90C79.00,262.87 80.00,262.72 81.00,262.73C82.00,262.74 83.00,262.87 84.00,262.95C85.00,263.03 86.00,263.18 87.00,263.19C88.00,263.20 89.00,263.06 90.00,262.99C91.00,262.92 92.00,262.80 93.00,262.79C94.00,262.79 95.00,262.93 96.00,262.96C97.00,262.99 98.00,263.04 99.00,262.99C100.00,262.94 101.00,262.74 102.00,262.68C103.00,262.62 104.00,262.61 105.00,262.66C106.00,262.71 107.00,262.91 108.00,262.97C109.00,263.03 110.00,263.03 111.00,263.00C112.00,262.97 113.00,262.82 114.00,262.81C115.00,262.80 116.00,262.90 117.00,262.96C118.00,263.02 119.00,263.19 120.00,263.19C121.00,263.19 122.00,263.05 123.00,262.97C124.00,262.89 125.00,262.74 126.00,262.72C127.00,262.70 128.00,262.82 129.00,262.86C130.00,262.90 131.00,262.98 132.00,262.95C133.00,262.92 134.00,262.75 135.00,262.71C136.00,262.67 137.00,262.64 138.00,262.69C139.00,262.74 140.00,262.96 141.00,263.03C142.00,263.10 143.00,263.12 144.00,263.09C145.00,263.06 146.00,262.90 147.00,262.87C148.00,262.84 149.00,262.88 150.00,262.93C151.00,262.98 152.00,263.14 153.00,263.14C154.00,263.14 155.00,263.01 156.00,262.93C157.00,262.85 158.00,262.66 159.00,262.64C160.00,262.62 161.00,262.75 162.00,262.80C163.00,262.85 164.00,262.96 165.00,262.96C166.00,262.96 167.00,262.81 168.00,262.78C169.00,262.75 170.00,262.70 171.00,262.75C172.00,262.80 173.00,263.01 174.00,263.08C175.00,263.15 176.00,263.18 177.00,263.15C178.00,263.12 179.00,262.93 180.00,262.88C181.00,262.83 182.00,262.83 183.00,262.86C184.00,262.89 185.00,263.05 186.00,263.05C187.00,263.05 188.00,262.95 189.00,262.88C190.00,262.81 191.00,262.63 192.00,262.61C193.00,262.59 194.00,262.70 195.00,262.77C196.00,262.84 197.00,263.00 198.00,263.02C199.00,263.04 200.00,262.91 201.00,262.88C202.00,262.85 203.00,262.77 204.00,262.81C205.00,262.85 206.00,263.03 207.00,263.09C208.00,263.15 209.00,263.20 210.00,263.16C211.00,263.12 212.00,262.92 213.00,262.85C214.00,262.79 215.00,262.75 216.00,262.77C217.00,262.79 218.00,262.95 219.00,262.97C220.00,262.99 221.00,262.93 222.00,262.87C223.00,262.81 224.00,262.63 225.00,262.62C226.00,262.61 227.00,262.72 228.00,262.80C229.00,262.88 230.00,263.06 231.00,263.09C232.00,263.12 233.00,263.02 234.00,262.98C235.00,262.94 236.00,262.83 237.00,262.84C238.00,262.85 239.00,263.01 240.00,263.06C241.00,263.11 242.00,263.17 243.00,263.12C244.00,263.07 245.00,262.86 246.00,262.79C247.00,262.72 248.00,262.66 249.00,262.68C250.00,262.70 251.00,262.87 252.00,262.91C253.00,262.95 254.00,262.94 255.00,262.90C256.00,262.86 257.00,262.69 258.00,262.68C259.00,262.67 260.00,262.77 261.00,262.85C262.00,262.93 263.00,263.13 264.00,263.16C265.00,263.19 266.00,263.10 267.00,263.04C268.00,262.99 269.00,262.84 270.00,262.83C271.00,262.82 272.00,262.94 273.00,262.98C274.00,263.02 275.00,263.10 276.00,263.06C277.00,263.02 278.00,262.82 279.00,262.75C280.00,262.68 280.82,262.82 282.00,262.63C283.18,262.44 284.77,261.74 286.10,261.60C287.43,261.46 288.45,261.97 290.00,261.80C291.55,261.63 293.67,260.98 295.40,260.60C297.13,260.22 299.00,259.83 300.40,259.50C301.80,259.17 302.68,258.60 303.80,258.60C304.92,258.60 306.03,259.78 307.10,259.50C308.17,259.22 309.22,256.90 310.20,256.90C311.18,256.90 311.97,258.93 313.00,259.50C314.03,260.07 315.13,260.50 316.40,260.30C317.67,260.10 319.17,258.82 320.60,258.30C322.03,257.78 323.85,257.67 325.00,257.20C326.15,256.73 326.67,255.92 327.50,255.50C328.33,255.08 329.15,254.97 330.00,254.70C330.85,254.43 331.82,253.62 332.60,253.90C333.38,254.18 334.00,255.57 334.70,256.40C335.40,257.23 336.03,258.77 336.80,258.90C337.57,259.03 338.47,257.62 339.30,257.20C340.13,256.78 341.05,256.12 341.80,256.40C342.55,256.68 343.10,258.62 343.80,258.90C344.50,259.18 345.35,258.67 346.00,258.10C346.65,257.53 347.22,257.05 347.70,255.50C348.18,253.95 348.48,252.72 348.90,248.80C349.32,244.88 349.75,238.17 350.20,232.00C350.65,225.83 351.18,216.57 351.60,211.80C352.02,207.03 352.37,205.07 352.70,203.40C353.03,201.73 353.23,201.52 353.60,201.80C353.97,202.08 354.40,203.85 354.90,205.10C355.40,206.35 356.03,208.45 356.60,209.30C357.17,210.15 357.73,208.93 358.30,210.20C358.87,211.47 359.45,214.10 360.00,216.90C360.55,219.70 360.98,224.48 361.60,227.00C362.22,229.52 363.02,230.05 363.70,232.00C364.38,233.95 365.08,237.02 365.70,238.70C366.32,240.38 366.85,241.82 367.40,242.10C367.95,242.38 368.37,240.97 369.00,240.40C369.63,239.83 370.42,238.83 371.20,238.70C371.98,238.57 372.85,239.17 373.70,239.60C374.55,240.03 375.45,240.88 376.30,241.30C377.15,241.72 377.97,241.68 378.80,242.10C379.63,242.52 380.47,243.23 381.30,243.80C382.13,244.37 383.05,244.38 383.80,245.50C384.55,246.62 385.10,249.53 385.80,250.50C386.50,251.47 387.22,251.02 388.00,251.30C388.78,251.58 389.65,252.62 390.50,252.20C391.35,251.78 392.30,249.08 393.10,248.80C393.90,248.52 394.60,249.88 395.30,250.50C396.00,251.12 396.55,252.08 397.30,252.50C398.05,252.92 398.97,253.17 399.80,253.00C400.63,252.83 401.40,252.12 402.30,251.50C403.20,250.88 404.15,250.00 405.20,249.30C406.25,248.60 407.62,247.90 408.60,247.30C409.58,246.70 410.40,245.42 411.10,245.70C411.80,245.98 412.23,247.88 412.80,249.00C413.37,250.12 413.80,252.12 414.50,252.40C415.20,252.68 416.17,251.12 417.00,250.70C417.83,250.28 418.67,249.62 419.50,249.90C420.33,250.18 421.15,251.57 422.00,252.40C422.85,253.23 423.88,254.20 424.60,254.90C425.32,255.60 425.60,256.88 426.30,256.60C427.00,256.32 427.97,253.48 428.80,253.20C429.63,252.92 430.47,254.33 431.30,254.90C432.13,255.47 432.97,256.03 433.80,256.60C434.63,257.17 435.45,258.17 436.30,258.30C437.15,258.43 438.05,257.68 438.90,257.40C439.75,257.12 440.57,256.73 441.40,256.60C442.23,256.47 443.07,256.47 443.90,256.60C444.73,256.73 445.57,257.33 446.40,257.40C447.23,257.47 448.05,256.92 448.90,257.00C449.75,257.08 450.65,257.60 451.50,257.90C452.35,258.20 453.17,258.60 454.00,258.80C454.83,259.00 455.67,259.13 456.50,259.10C457.33,259.07 458.02,258.73 459.00,258.60C459.98,258.47 461.83,258.35 462.40,258.30" fill="none" stroke="#8484f6" stroke-width="0.9" stroke-linejoin="round"/>
<rect x="32" y="258.8" width="1.8" height="2" fill="#1414e6"/>
<text x="43.2" y="257.8" font-size="4.3" fill="#4a4a4a" letter-spacing="0.18">0.45</text>
<text x="305.5" y="256.8" font-size="4.3" fill="#4a4a4a" letter-spacing="0.18">9.64</text>
<text x="325.8" y="254.0" font-size="4.3" fill="#4a4a4a" letter-spacing="0.18">10.40</text>
<text x="347.7" y="201.6" font-size="4.3" fill="#4a4a4a" letter-spacing="0.18">11.16</text>
<text x="367.9" y="239.1" font-size="4.3" fill="#4a4a4a" letter-spacing="0.18">11.84</text>
<text x="383.0" y="243.9" font-size="4.3" fill="#4a4a4a" letter-spacing="0.18">12.17</text>
<text x="405.2" y="246.0" font-size="4.3" fill="#4a4a4a" letter-spacing="0.18">13.57</text>
<text x="421.2" y="250.2" font-size="4.3" fill="#4a4a4a" letter-spacing="0.18">13.66</text>
<text x="435.5" y="255.6" font-size="4.3" fill="#4a4a4a" letter-spacing="0.18">14.24</text>
<text x="446.25" y="208.4" font-size="12.3" fill="#151515" stroke="#151515" stroke-width="0.12">2</text>
<text x="456.25" y="208.4" font-size="11.8" fill="#151515" stroke="#151515" stroke-width="0.12">a</text>
<line x1="6" y1="271.1" x2="469" y2="271.1" stroke="#d4d4d4" stroke-width="1"/>
<rect x="12" y="270.8" width="5" height="2.4" fill="#1414e6"/>
<text x="21.5" y="274.4" font-size="4.3" fill="#484848" textLength="309" lengthAdjust="spacing">XIC of +MRM (9 pairs): 351.079/196.900 Da ID: TPC 2 from Sample 49 (21_02_19_13) of 2019-02-22 TBT.wiff (Turbo Spray), SG Smoothed (5)</text>
<text x="467" y="274.4" font-size="4.3" fill="#484848" text-anchor="end">Max. 763.6 cps.</text>
<line x1="34.1" y1="281.1" x2="34.1" y2="343.6" stroke="#d0d0d0" stroke-width="1.4"/>
<line x1="33.2" y1="339.5" x2="34.2" y2="339.5" stroke="#b8b8b8" stroke-width="0.6"/>
<line x1="33.2" y1="331.4" x2="34.2" y2="331.4" stroke="#b8b8b8" stroke-width="0.6"/>
<line x1="33.2" y1="323.3" x2="34.2" y2="323.3" stroke="#b8b8b8" stroke-width="0.6"/>
<line x1="33.2" y1="315.2" x2="34.2" y2="315.2" stroke="#b8b8b8" stroke-width="0.6"/>
<line x1="33.2" y1="307.1" x2="34.2" y2="307.1" stroke="#b8b8b8" stroke-width="0.6"/>
<line x1="33.2" y1="299.0" x2="34.2" y2="299.0" stroke="#b8b8b8" stroke-width="0.6"/>
<line x1="33.2" y1="290.9" x2="34.2" y2="290.9" stroke="#b8b8b8" stroke-width="0.6"/>
<line x1="33.2" y1="282.7" x2="34.2" y2="282.7" stroke="#b8b8b8" stroke-width="0.6"/>
<line x1="34.2" y1="343.6" x2="463.5" y2="343.6" stroke="#cfcfcf" stroke-width="1"/>
<line x1="32.6" y1="281.6" x2="34.2" y2="281.6" stroke="#b0b0b0" stroke-width="0.7"/>
<text x="31.3" y="283.4" font-size="4.3" fill="#3a3a3a" text-anchor="end" letter-spacing="0.15">764</text>
<line x1="32.6" y1="286.8" x2="34.2" y2="286.8" stroke="#b0b0b0" stroke-width="0.7"/>
<text x="31.3" y="288.6" font-size="4.3" fill="#3a3a3a" text-anchor="end" letter-spacing="0.15">700</text>
<line x1="32.6" y1="294.9" x2="34.2" y2="294.9" stroke="#b0b0b0" stroke-width="0.7"/>
<text x="31.3" y="296.7" font-size="4.3" fill="#3a3a3a" text-anchor="end" letter-spacing="0.15">600</text>
<line x1="32.6" y1="303.0" x2="34.2" y2="303.0" stroke="#b0b0b0" stroke-width="0.7"/>
<text x="31.3" y="304.8" font-size="4.3" fill="#3a3a3a" text-anchor="end" letter-spacing="0.15">500</text>
<line x1="32.6" y1="311.1" x2="34.2" y2="311.1" stroke="#b0b0b0" stroke-width="0.7"/>
<text x="31.3" y="312.9" font-size="4.3" fill="#3a3a3a" text-anchor="end" letter-spacing="0.15">400</text>
<line x1="32.6" y1="319.3" x2="34.2" y2="319.3" stroke="#b0b0b0" stroke-width="0.7"/>
<text x="31.3" y="321.1" font-size="4.3" fill="#3a3a3a" text-anchor="end" letter-spacing="0.15">300</text>
<line x1="32.6" y1="327.4" x2="34.2" y2="327.4" stroke="#b0b0b0" stroke-width="0.7"/>
<text x="31.3" y="329.2" font-size="4.3" fill="#3a3a3a" text-anchor="end" letter-spacing="0.15">200</text>
<line x1="32.6" y1="335.5" x2="34.2" y2="335.5" stroke="#b0b0b0" stroke-width="0.7"/>
<text x="31.3" y="337.3" font-size="4.3" fill="#3a3a3a" text-anchor="end" letter-spacing="0.15">100</text>
<line x1="32.6" y1="343.6" x2="34.2" y2="343.6" stroke="#b0b0b0" stroke-width="0.7"/>
<text x="31.3" y="345.4" font-size="4.3" fill="#3a3a3a" text-anchor="end" letter-spacing="0.15">0</text>
<line x1="62.8" y1="343.6" x2="62.8" y2="344.8" stroke="#b0b0b0" stroke-width="0.7"/>
<text x="62.8" y="347.8" font-size="4.3" fill="#3a3a3a" text-anchor="middle" letter-spacing="0.15">1.0</text>
<line x1="91.5" y1="343.6" x2="91.5" y2="344.8" stroke="#b0b0b0" stroke-width="0.7"/>
<text x="91.5" y="347.8" font-size="4.3" fill="#3a3a3a" text-anchor="middle" letter-spacing="0.15">2.0</text>
<line x1="120.1" y1="343.6" x2="120.1" y2="344.8" stroke="#b0b0b0" stroke-width="0.7"/>
<text x="120.1" y="347.8" font-size="4.3" fill="#3a3a3a" text-anchor="middle" letter-spacing="0.15">3.0</text>
<line x1="148.7" y1="343.6" x2="148.7" y2="344.8" stroke="#b0b0b0" stroke-width="0.7"/>
<text x="148.7" y="347.8" font-size="4.3" fill="#3a3a3a" text-anchor="middle" letter-spacing="0.15">4.0</text>
<line x1="177.4" y1="343.6" x2="177.4" y2="344.8" stroke="#b0b0b0" stroke-width="0.7"/>
<text x="177.4" y="347.8" font-size="4.3" fill="#3a3a3a" text-anchor="middle" letter-spacing="0.15">5.0</text>
<line x1="206.0" y1="343.6" x2="206.0" y2="344.8" stroke="#b0b0b0" stroke-width="0.7"/>
<text x="206.0" y="347.8" font-size="4.3" fill="#3a3a3a" text-anchor="middle" letter-spacing="0.15">6.0</text>
<line x1="234.6" y1="343.6" x2="234.6" y2="344.8" stroke="#b0b0b0" stroke-width="0.7"/>
<text x="234.6" y="347.8" font-size="4.3" fill="#3a3a3a" text-anchor="middle" letter-spacing="0.15">7.0</text>
<line x1="263.2" y1="343.6" x2="263.2" y2="344.8" stroke="#b0b0b0" stroke-width="0.7"/>
<text x="263.2" y="347.8" font-size="4.3" fill="#3a3a3a" text-anchor="middle" letter-spacing="0.15">8.0</text>
<line x1="291.9" y1="343.6" x2="291.9" y2="344.8" stroke="#b0b0b0" stroke-width="0.7"/>
<text x="291.9" y="347.8" font-size="4.3" fill="#3a3a3a" text-anchor="middle" letter-spacing="0.15">9.0</text>
<line x1="320.5" y1="343.6" x2="320.5" y2="344.8" stroke="#b0b0b0" stroke-width="0.7"/>
<text x="320.5" y="347.8" font-size="4.3" fill="#3a3a3a" text-anchor="middle" letter-spacing="0.15">10.0</text>
<line x1="349.1" y1="343.6" x2="349.1" y2="344.8" stroke="#b0b0b0" stroke-width="0.7"/>
<text x="349.1" y="347.8" font-size="4.3" fill="#3a3a3a" text-anchor="middle" letter-spacing="0.15">11.0</text>
<line x1="377.8" y1="343.6" x2="377.8" y2="344.8" stroke="#b0b0b0" stroke-width="0.7"/>
<text x="377.8" y="347.8" font-size="4.3" fill="#3a3a3a" text-anchor="middle" letter-spacing="0.15">12.0</text>
<line x1="406.4" y1="343.6" x2="406.4" y2="344.8" stroke="#b0b0b0" stroke-width="0.7"/>
<text x="406.4" y="347.8" font-size="4.3" fill="#3a3a3a" text-anchor="middle" letter-spacing="0.15">13.0</text>
<line x1="435.0" y1="343.6" x2="435.0" y2="344.8" stroke="#b0b0b0" stroke-width="0.7"/>
<text x="435.0" y="347.8" font-size="4.3" fill="#3a3a3a" text-anchor="middle" letter-spacing="0.15">14.0</text>
<text x="248.5" y="351.1" font-size="4.4" fill="#444" text-anchor="middle" letter-spacing="0.2">Time, min</text>
<text x="0" y="0" font-size="3.3" fill="#222" text-anchor="middle" textLength="18.2" lengthAdjust="spacingAndGlyphs" transform="translate(10.9,312.6) rotate(-90)">Intensity, cps</text>
<path d="M34.00,340.90C34.80,341.05 37.27,342.07 38.80,341.80C40.33,341.53 41.93,339.33 43.20,339.30C44.47,339.27 45.03,341.38 46.40,341.60C47.77,341.82 49.73,340.50 51.40,340.60C53.07,340.70 54.72,341.83 56.40,342.20C58.08,342.57 60.23,342.63 61.50,342.80C62.77,342.97 63.08,343.12 64.00,343.24C64.92,343.37 66.00,343.51 67.00,343.55C68.00,343.59 69.00,343.54 70.00,343.50C71.00,343.46 72.00,343.29 73.00,343.30C74.00,343.31 75.00,343.46 76.00,343.55C77.00,343.64 78.00,343.83 79.00,343.84C80.00,343.85 81.00,343.69 82.00,343.61C83.00,343.53 84.00,343.39 85.00,343.38C86.00,343.37 87.00,343.53 88.00,343.57C89.00,343.61 90.00,343.66 91.00,343.60C92.00,343.55 93.00,343.30 94.00,343.24C95.00,343.18 96.00,343.16 97.00,343.22C98.00,343.28 99.00,343.51 100.00,343.58C101.00,343.65 102.00,343.65 103.00,343.62C104.00,343.59 105.00,343.41 106.00,343.40C107.00,343.39 108.00,343.50 109.00,343.57C110.00,343.64 111.00,343.84 112.00,343.84C113.00,343.84 114.00,343.68 115.00,343.59C116.00,343.50 117.00,343.30 118.00,343.28C119.00,343.26 120.00,343.41 121.00,343.46C122.00,343.51 123.00,343.59 124.00,343.56C125.00,343.53 126.00,343.32 127.00,343.27C128.00,343.22 129.00,343.19 130.00,343.25C131.00,343.31 132.00,343.57 133.00,343.65C134.00,343.73 135.00,343.75 136.00,343.72C137.00,343.69 138.00,343.49 139.00,343.46C140.00,343.43 141.00,343.49 142.00,343.54C143.00,343.59 144.00,343.78 145.00,343.78C146.00,343.78 147.00,343.63 148.00,343.53C149.00,343.43 150.00,343.22 151.00,343.20C152.00,343.18 153.00,343.32 154.00,343.38C155.00,343.44 156.00,343.58 157.00,343.58C158.00,343.58 159.00,343.40 160.00,343.36C161.00,343.32 162.00,343.26 163.00,343.32C164.00,343.38 165.00,343.63 166.00,343.71C167.00,343.79 168.00,343.83 169.00,343.79C170.00,343.75 171.00,343.53 172.00,343.47C173.00,343.42 174.00,343.42 175.00,343.46C176.00,343.50 177.00,343.68 178.00,343.68C179.00,343.68 180.00,343.57 181.00,343.48C182.00,343.39 183.00,343.18 184.00,343.16C185.00,343.14 186.00,343.27 187.00,343.35C188.00,343.43 189.00,343.62 190.00,343.64C191.00,343.66 192.00,343.51 193.00,343.47C194.00,343.43 195.00,343.35 196.00,343.39C197.00,343.43 198.00,343.65 199.00,343.72C200.00,343.79 201.00,343.86 202.00,343.81C203.00,343.76 204.00,343.52 205.00,343.44C206.00,343.36 207.00,343.32 208.00,343.34C209.00,343.36 210.00,343.56 211.00,343.58C212.00,343.60 213.00,343.53 214.00,343.46C215.00,343.39 216.00,343.19 217.00,343.18C218.00,343.17 219.00,343.29 220.00,343.38C221.00,343.47 222.00,343.69 223.00,343.72C224.00,343.75 225.00,343.64 226.00,343.59C227.00,343.54 228.00,343.41 229.00,343.43C230.00,343.45 231.00,343.63 232.00,343.69C233.00,343.75 234.00,343.81 235.00,343.76C236.00,343.71 237.00,343.47 238.00,343.38C239.00,343.29 240.00,343.22 241.00,343.24C242.00,343.26 243.00,343.47 244.00,343.51C245.00,343.55 246.00,343.54 247.00,343.50C248.00,343.46 249.00,343.26 250.00,343.25C251.00,343.24 252.00,343.35 253.00,343.44C254.00,343.53 255.00,343.76 256.00,343.80C257.00,343.84 258.00,343.72 259.00,343.66C260.00,343.60 261.00,343.43 262.00,343.42C263.00,343.41 264.00,343.56 265.00,343.60C266.00,343.65 267.00,343.74 268.00,343.69C269.00,343.64 270.00,343.40 271.00,343.32C272.00,343.24 273.00,343.15 274.00,343.18C275.00,343.21 276.00,343.43 277.00,343.50C278.00,343.57 279.00,343.60 280.00,343.58C281.00,343.56 282.00,343.37 283.00,343.35C284.00,343.34 285.00,343.41 286.00,343.49C287.00,343.57 288.00,343.80 289.00,343.83C290.00,343.86 290.83,343.82 292.00,343.68C293.17,343.54 294.60,343.23 296.00,343.00C297.40,342.77 299.10,342.70 300.40,342.30C301.70,341.90 302.53,341.17 303.80,340.60C305.07,340.03 306.75,338.77 308.00,338.90C309.25,339.03 310.18,341.17 311.30,341.40C312.42,341.63 313.43,340.58 314.70,340.30C315.97,340.02 317.58,340.07 318.90,339.70C320.22,339.33 321.58,338.23 322.60,338.10C323.62,337.97 324.03,338.63 325.00,338.90C325.97,339.17 327.28,339.28 328.40,339.70C329.52,340.12 330.58,340.92 331.70,341.40C332.82,341.88 333.98,342.40 335.10,342.60C336.22,342.80 337.42,342.80 338.40,342.60C339.38,342.40 340.30,342.30 341.00,341.40C341.70,340.50 342.13,339.58 342.60,337.20C343.07,334.82 343.37,331.30 343.80,327.10C344.23,322.90 344.75,316.75 345.20,312.00C345.65,307.25 346.08,302.80 346.50,298.60C346.92,294.40 347.30,289.55 347.70,286.80C348.10,284.05 348.48,282.52 348.90,282.10C349.32,281.68 349.75,283.23 350.20,284.30C350.65,285.37 351.18,286.97 351.60,288.50C352.02,290.03 352.32,291.27 352.70,293.50C353.08,295.73 353.53,298.95 353.90,301.90C354.27,304.85 354.53,309.80 354.90,311.20C355.27,312.60 355.70,309.60 356.10,310.30C356.50,311.00 356.88,313.72 357.30,315.40C357.72,317.08 358.10,319.28 358.60,320.40C359.10,321.52 359.73,321.40 360.30,322.10C360.87,322.80 361.38,324.03 362.00,324.60C362.62,325.17 363.45,324.65 364.00,325.50C364.55,326.35 364.85,328.45 365.30,329.70C365.75,330.95 366.18,332.87 366.70,333.00C367.22,333.13 367.78,330.78 368.40,330.50C369.02,330.22 369.65,331.30 370.40,331.30C371.15,331.30 372.07,330.77 372.90,330.50C373.73,330.23 374.48,330.20 375.40,329.70C376.32,329.20 377.55,327.37 378.40,327.50C379.25,327.63 379.73,329.43 380.50,330.50C381.27,331.57 382.22,332.92 383.00,333.90C383.78,334.88 384.50,336.27 385.20,336.40C385.90,336.53 386.45,334.57 387.20,334.70C387.95,334.83 388.92,337.33 389.70,337.20C390.48,337.07 391.20,334.03 391.90,333.90C392.60,333.77 393.15,335.85 393.90,336.40C394.65,336.95 395.63,336.83 396.40,337.20C397.17,337.57 397.73,338.78 398.50,338.60C399.27,338.42 400.15,336.67 401.00,336.10C401.85,335.53 402.90,334.93 403.60,335.20C404.30,335.47 404.50,337.55 405.20,337.70C405.90,337.85 406.95,335.95 407.80,336.10C408.65,336.25 409.47,338.05 410.30,338.60C411.13,339.15 411.97,339.55 412.80,339.40C413.63,339.25 414.47,337.88 415.30,337.70C416.13,337.52 416.95,338.15 417.80,338.30C418.65,338.45 419.55,338.42 420.40,338.60C421.25,338.78 422.07,339.12 422.90,339.40C423.73,339.68 424.57,340.43 425.40,340.30C426.23,340.17 427.05,338.75 427.90,338.60C428.75,338.45 429.80,339.45 430.50,339.40C431.20,339.35 431.40,338.15 432.10,338.30C432.80,338.45 433.85,339.83 434.70,340.30C435.55,340.77 436.37,341.25 437.20,341.10C438.03,340.95 438.87,339.82 439.70,339.40C440.53,338.98 441.37,338.45 442.20,338.60C443.03,338.75 443.85,340.17 444.70,340.30C445.55,340.43 446.45,339.40 447.30,339.40C448.15,339.40 448.97,340.30 449.80,340.30C450.63,340.30 451.47,339.27 452.30,339.40C453.13,339.53 453.97,340.95 454.80,341.10C455.63,341.25 456.45,340.30 457.30,340.30C458.15,340.30 459.20,341.17 459.90,341.10C460.60,341.03 461.00,339.75 461.50,339.90C462.00,340.05 462.67,341.65 462.90,342.00" fill="none" stroke="#8484f6" stroke-width="0.9" stroke-linejoin="round"/>
<rect x="32" y="339.4" width="1.8" height="2" fill="#1414e6"/>
<text x="39.4" y="336.8" font-size="4.3" fill="#4a4a4a" letter-spacing="0.18">0.36</text>
<text x="98.7" y="339.3" font-size="4.3" fill="#4a4a4a" letter-spacing="0.18">2.43</text>
<text x="292.9" y="340.4" font-size="4.3" fill="#4a4a4a" letter-spacing="0.18">9.46</text>
<text x="303.4" y="337.0" font-size="4.3" fill="#4a4a4a" letter-spacing="0.18">9.66</text>
<text x="318.9" y="335.0" font-size="4.3" fill="#4a4a4a" letter-spacing="0.18">10.15</text>
<text x="388.0" y="327.3" font-size="4.3" fill="#4a4a4a" letter-spacing="0.18">12.55</text>
<text x="405.2" y="330.3" font-size="4.3" fill="#4a4a4a" letter-spacing="0.18">12.93</text>
<text x="427.1" y="335.9" font-size="4.3" fill="#4a4a4a" letter-spacing="0.18">14.24</text>
<text x="439.7" y="335.0" font-size="4.3" fill="#4a4a4a" letter-spacing="0.18">14.49</text>
<text x="447.15" y="290.5" font-size="12.3" fill="#151515" stroke="#151515" stroke-width="0.12">2</text>
<text x="457.35" y="290.5" font-size="11.8" fill="#151515" stroke="#151515" stroke-width="0.12">b</text>
<line x1="6" y1="366.6" x2="469" y2="366.6" stroke="#d4d4d4" stroke-width="1"/>
<rect x="12" y="366.3" width="5" height="2.4" fill="#1414e6"/>
<text x="21.5" y="369.9" font-size="4.3" fill="#484848" textLength="309" lengthAdjust="spacing">XIC of +MRM (9 pairs): 291.127/122.900 Da ID: TBT 3 from Sample 138 (22_02_19_67) of 2019-02-22 TBT.wiff (Turbo Spray), SG Smoothed (5)</text>
<text x="467" y="369.9" font-size="4.3" fill="#484848" text-anchor="end">Max. 1.6e5 cps.</text>
<line x1="34.1" y1="379.1" x2="34.1" y2="446.2" stroke="#d0d0d0" stroke-width="1.4"/>
<line x1="33.2" y1="442.0" x2="34.2" y2="442.0" stroke="#b8b8b8" stroke-width="0.6"/>
<line x1="33.2" y1="433.7" x2="34.2" y2="433.7" stroke="#b8b8b8" stroke-width="0.6"/>
<line x1="33.2" y1="425.4" x2="34.2" y2="425.4" stroke="#b8b8b8" stroke-width="0.6"/>
<line x1="33.2" y1="417.1" x2="34.2" y2="417.1" stroke="#b8b8b8" stroke-width="0.6"/>
<line x1="33.2" y1="408.7" x2="34.2" y2="408.7" stroke="#b8b8b8" stroke-width="0.6"/>
<line x1="33.2" y1="400.4" x2="34.2" y2="400.4" stroke="#b8b8b8" stroke-width="0.6"/>
<line x1="33.2" y1="392.1" x2="34.2" y2="392.1" stroke="#b8b8b8" stroke-width="0.6"/>
<line x1="33.2" y1="383.8" x2="34.2" y2="383.8" stroke="#b8b8b8" stroke-width="0.6"/>
<line x1="34.2" y1="446.2" x2="463.5" y2="446.2" stroke="#cfcfcf" stroke-width="1"/>
<line x1="32.6" y1="379.6" x2="34.2" y2="379.6" stroke="#b0b0b0" stroke-width="0.7"/>
<text x="31.3" y="381.4" font-size="4.3" fill="#3a3a3a" text-anchor="end" letter-spacing="0.15">1.6e5</text>
<line x1="32.6" y1="387.9" x2="34.2" y2="387.9" stroke="#b0b0b0" stroke-width="0.7"/>
<text x="31.3" y="389.7" font-size="4.3" fill="#3a3a3a" text-anchor="end" letter-spacing="0.15">1.4e5</text>
<line x1="32.6" y1="396.2" x2="34.2" y2="396.2" stroke="#b0b0b0" stroke-width="0.7"/>
<text x="31.3" y="398.1" font-size="4.3" fill="#3a3a3a" text-anchor="end" letter-spacing="0.15">1.2e5</text>
<line x1="32.6" y1="404.6" x2="34.2" y2="404.6" stroke="#b0b0b0" stroke-width="0.7"/>
<text x="31.3" y="406.4" font-size="4.3" fill="#3a3a3a" text-anchor="end" letter-spacing="0.15">1.0e5</text>
<line x1="32.6" y1="412.9" x2="34.2" y2="412.9" stroke="#b0b0b0" stroke-width="0.7"/>
<text x="31.3" y="414.7" font-size="4.3" fill="#3a3a3a" text-anchor="end" letter-spacing="0.15">8.0e4</text>
<line x1="32.6" y1="421.2" x2="34.2" y2="421.2" stroke="#b0b0b0" stroke-width="0.7"/>
<text x="31.3" y="423.0" font-size="4.3" fill="#3a3a3a" text-anchor="end" letter-spacing="0.15">6.0e4</text>
<line x1="32.6" y1="429.6" x2="34.2" y2="429.6" stroke="#b0b0b0" stroke-width="0.7"/>
<text x="31.3" y="431.4" font-size="4.3" fill="#3a3a3a" text-anchor="end" letter-spacing="0.15">4.0e4</text>
<line x1="32.6" y1="437.9" x2="34.2" y2="437.9" stroke="#b0b0b0" stroke-width="0.7"/>
<text x="31.3" y="439.7" font-size="4.3" fill="#3a3a3a" text-anchor="end" letter-spacing="0.15">2.0e4</text>
<line x1="32.6" y1="446.2" x2="34.2" y2="446.2" stroke="#b0b0b0" stroke-width="0.7"/>
<text x="31.3" y="448.0" font-size="4.3" fill="#3a3a3a" text-anchor="end" letter-spacing="0.15">0.0</text>
<line x1="62.8" y1="446.2" x2="62.8" y2="447.4" stroke="#b0b0b0" stroke-width="0.7"/>
<text x="62.8" y="450.4" font-size="4.3" fill="#3a3a3a" text-anchor="middle" letter-spacing="0.15">1.0</text>
<line x1="91.5" y1="446.2" x2="91.5" y2="447.4" stroke="#b0b0b0" stroke-width="0.7"/>
<text x="91.5" y="450.4" font-size="4.3" fill="#3a3a3a" text-anchor="middle" letter-spacing="0.15">2.0</text>
<line x1="120.1" y1="446.2" x2="120.1" y2="447.4" stroke="#b0b0b0" stroke-width="0.7"/>
<text x="120.1" y="450.4" font-size="4.3" fill="#3a3a3a" text-anchor="middle" letter-spacing="0.15">3.0</text>
<line x1="148.7" y1="446.2" x2="148.7" y2="447.4" stroke="#b0b0b0" stroke-width="0.7"/>
<text x="148.7" y="450.4" font-size="4.3" fill="#3a3a3a" text-anchor="middle" letter-spacing="0.15">4.0</text>
<line x1="177.4" y1="446.2" x2="177.4" y2="447.4" stroke="#b0b0b0" stroke-width="0.7"/>
<text x="177.4" y="450.4" font-size="4.3" fill="#3a3a3a" text-anchor="middle" letter-spacing="0.15">5.0</text>
<line x1="206.0" y1="446.2" x2="206.0" y2="447.4" stroke="#b0b0b0" stroke-width="0.7"/>
<text x="206.0" y="450.4" font-size="4.3" fill="#3a3a3a" text-anchor="middle" letter-spacing="0.15">6.0</text>
<line x1="234.6" y1="446.2" x2="234.6" y2="447.4" stroke="#b0b0b0" stroke-width="0.7"/>
<text x="234.6" y="450.4" font-size="4.3" fill="#3a3a3a" text-anchor="middle" letter-spacing="0.15">7.0</text>
<line x1="263.2" y1="446.2" x2="263.2" y2="447.4" stroke="#b0b0b0" stroke-width="0.7"/>
<text x="263.2" y="450.4" font-size="4.3" fill="#3a3a3a" text-anchor="middle" letter-spacing="0.15">8.0</text>
<line x1="291.9" y1="446.2" x2="291.9" y2="447.4" stroke="#b0b0b0" stroke-width="0.7"/>
<text x="291.9" y="450.4" font-size="4.3" fill="#3a3a3a" text-anchor="middle" letter-spacing="0.15">9.0</text>
<line x1="320.5" y1="446.2" x2="320.5" y2="447.4" stroke="#b0b0b0" stroke-width="0.7"/>
<text x="320.5" y="450.4" font-size="4.3" fill="#3a3a3a" text-anchor="middle" letter-spacing="0.15">10.0</text>
<line x1="349.1" y1="446.2" x2="349.1" y2="447.4" stroke="#b0b0b0" stroke-width="0.7"/>
<text x="349.1" y="450.4" font-size="4.3" fill="#3a3a3a" text-anchor="middle" letter-spacing="0.15">11.0</text>
<line x1="377.8" y1="446.2" x2="377.8" y2="447.4" stroke="#b0b0b0" stroke-width="0.7"/>
<text x="377.8" y="450.4" font-size="4.3" fill="#3a3a3a" text-anchor="middle" letter-spacing="0.15">12.0</text>
<line x1="406.4" y1="446.2" x2="406.4" y2="447.4" stroke="#b0b0b0" stroke-width="0.7"/>
<text x="406.4" y="450.4" font-size="4.3" fill="#3a3a3a" text-anchor="middle" letter-spacing="0.15">13.0</text>
<line x1="435.0" y1="446.2" x2="435.0" y2="447.4" stroke="#b0b0b0" stroke-width="0.7"/>
<text x="435.0" y="450.4" font-size="4.3" fill="#3a3a3a" text-anchor="middle" letter-spacing="0.15">14.0</text>
<text x="248.5" y="453.7" font-size="4.4" fill="#444" text-anchor="middle" letter-spacing="0.2">Time, min</text>
<text x="0" y="0" font-size="3.3" fill="#222" text-anchor="middle" textLength="18.2" lengthAdjust="spacingAndGlyphs" transform="translate(10.9,412.9) rotate(-90)">Intensity, cps</text>
<path d="M34.00,446.15C34.67,446.13 36.67,446.05 38.00,446.06C39.33,446.07 40.67,446.19 42.00,446.21C43.33,446.23 44.67,446.24 46.00,446.20C47.33,446.16 48.67,446.01 50.00,445.97C51.33,445.93 52.67,445.92 54.00,445.95C55.33,445.98 56.67,446.11 58.00,446.13C59.33,446.15 60.67,446.12 62.00,446.10C63.33,446.08 64.67,445.99 66.00,445.99C67.33,446.00 68.67,446.08 70.00,446.13C71.33,446.18 72.67,446.30 74.00,446.30C75.33,446.31 76.67,446.21 78.00,446.16C79.33,446.12 80.67,446.03 82.00,446.03C83.33,446.03 84.67,446.12 86.00,446.14C87.33,446.16 88.67,446.19 90.00,446.16C91.33,446.13 92.67,445.99 94.00,445.95C95.33,445.91 96.67,445.91 98.00,445.94C99.33,445.97 100.67,446.11 102.00,446.15C103.33,446.19 104.67,446.19 106.00,446.17C107.33,446.15 108.67,446.05 110.00,446.04C111.33,446.04 112.67,446.10 114.00,446.14C115.33,446.18 116.67,446.29 118.00,446.29C119.33,446.29 120.67,446.20 122.00,446.15C123.33,446.10 124.67,445.99 126.00,445.98C127.33,445.97 128.67,446.05 130.00,446.08C131.33,446.11 132.67,446.16 134.00,446.14C135.33,446.12 136.67,446.00 138.00,445.97C139.33,445.94 140.67,445.92 142.00,445.96C143.33,446.00 144.67,446.13 146.00,446.18C147.33,446.23 148.67,446.25 150.00,446.23C151.33,446.21 152.67,446.10 154.00,446.08C155.33,446.06 156.67,446.09 158.00,446.12C159.33,446.15 160.67,446.26 162.00,446.26C163.33,446.26 164.67,446.18 166.00,446.12C167.33,446.06 168.67,445.94 170.00,445.93C171.33,445.92 172.67,446.00 174.00,446.03C175.33,446.06 176.67,446.14 178.00,446.14C179.33,446.14 180.67,446.04 182.00,446.02C183.33,446.00 184.67,445.97 186.00,446.00C187.33,446.03 188.67,446.18 190.00,446.22C191.33,446.27 192.67,446.29 194.00,446.27C195.33,446.25 196.67,446.11 198.00,446.08C199.33,446.05 200.67,446.05 202.00,446.07C203.33,446.09 204.67,446.20 206.00,446.20C207.33,446.20 208.67,446.14 210.00,446.09C211.33,446.04 212.67,445.91 214.00,445.90C215.33,445.89 216.67,445.97 218.00,446.02C219.33,446.07 220.67,446.17 222.00,446.18C223.33,446.19 224.67,446.11 226.00,446.09C227.33,446.07 228.67,446.02 230.00,446.04C231.33,446.06 232.67,446.19 234.00,446.23C235.33,446.27 236.67,446.30 238.00,446.27C239.33,446.24 240.67,446.10 242.00,446.06C243.33,446.02 244.67,446.00 246.00,446.01C247.33,446.02 248.67,446.13 250.00,446.14C251.33,446.15 252.67,446.12 254.00,446.08C255.33,446.04 256.67,445.92 258.00,445.91C259.33,445.90 260.67,445.98 262.00,446.03C263.33,446.08 264.67,446.21 266.00,446.23C267.33,446.25 268.67,446.18 270.00,446.15C271.33,446.12 272.67,446.05 274.00,446.06C275.33,446.07 276.67,446.18 278.00,446.21C279.33,446.24 280.67,446.28 282.00,446.25C283.33,446.22 284.67,446.08 286.00,446.03C287.33,445.98 288.67,445.94 290.00,445.95C291.33,445.96 292.67,446.09 294.00,446.11C295.33,446.13 296.67,446.12 298.00,446.10C299.33,446.08 300.67,445.97 302.00,445.96C303.33,445.95 304.67,446.01 306.00,446.06C307.33,446.11 308.67,446.25 310.00,446.27C311.33,446.29 312.67,446.23 314.00,446.19C315.33,446.15 316.67,446.06 318.00,446.05C319.33,446.04 320.67,446.12 322.00,446.15C323.33,446.18 324.67,446.23 326.00,446.21C327.33,446.19 328.67,446.05 330.00,446.00C331.33,445.95 332.28,446.00 334.00,445.92C335.72,445.84 338.73,445.99 340.30,445.50C341.87,445.01 342.70,444.53 343.40,443.00C344.10,441.47 344.12,440.22 344.50,436.30C344.88,432.38 345.28,425.95 345.70,419.50C346.12,413.05 346.55,403.48 347.00,397.60C347.45,391.72 347.97,387.28 348.40,384.20C348.83,381.12 349.20,379.80 349.60,379.10C350.00,378.40 350.38,378.88 350.80,380.00C351.22,381.12 351.60,383.15 352.10,385.80C352.60,388.45 353.18,392.53 353.80,395.90C354.42,399.27 355.10,402.63 355.80,406.00C356.50,409.37 357.27,413.15 358.00,416.10C358.73,419.05 359.45,421.47 360.20,423.70C360.95,425.93 361.67,428.10 362.50,429.50C363.33,430.90 364.27,431.53 365.20,432.10C366.13,432.67 367.20,432.77 368.10,432.90C369.00,433.03 369.85,432.62 370.60,432.90C371.35,433.18 371.90,433.75 372.60,434.60C373.30,435.45 374.02,437.05 374.80,438.00C375.58,438.95 376.40,439.82 377.30,440.30C378.20,440.78 378.67,440.58 380.20,440.90C381.73,441.22 384.40,441.72 386.50,442.20C388.60,442.68 390.35,443.42 392.80,443.80C395.25,444.18 397.00,444.32 401.20,444.50C405.40,444.68 411.70,444.73 418.00,444.90C424.30,445.07 431.65,445.33 439.00,445.50C446.35,445.67 458.25,445.83 462.10,445.90" fill="none" stroke="#8484f6" stroke-width="0.9" stroke-linejoin="round"/>
<rect x="32" y="442.0" width="1.8" height="2" fill="#1414e6"/>
<text x="379.2" y="440.1" font-size="4.3" fill="#4a4a4a" letter-spacing="0.18">12.65</text>
<text x="447.05" y="383.7" font-size="12.3" fill="#151515" stroke="#151515" stroke-width="0.12">3</text>
<text x="456.95" y="383.7" font-size="11.8" fill="#151515" stroke="#151515" stroke-width="0.12">a</text>
<line x1="6" y1="454.6" x2="469" y2="454.6" stroke="#d4d4d4" stroke-width="1"/>
<rect x="12" y="454.3" width="5" height="2.4" fill="#1414e6"/>
<text x="21.5" y="457.9" font-size="4.3" fill="#484848" textLength="309" lengthAdjust="spacing">XIC of +MRM (9 pairs): 351.079/118.900 Da ID: TPC 1 from Sample 138 (22_02_19_67) of 2019-02-22 TBT.wiff (Turbo Spray), SG Smoothed (5)</text>
<text x="467" y="457.9" font-size="4.3" fill="#484848" text-anchor="end">Max. 3838.3 cps.</text>
<line x1="34.1" y1="466.1" x2="34.1" y2="534.2" stroke="#d0d0d0" stroke-width="1.4"/>
<line x1="33.2" y1="529.8" x2="34.2" y2="529.8" stroke="#b8b8b8" stroke-width="0.6"/>
<line x1="33.2" y1="521.0" x2="34.2" y2="521.0" stroke="#b8b8b8" stroke-width="0.6"/>
<line x1="33.2" y1="512.2" x2="34.2" y2="512.2" stroke="#b8b8b8" stroke-width="0.6"/>
<line x1="33.2" y1="503.4" x2="34.2" y2="503.4" stroke="#b8b8b8" stroke-width="0.6"/>
<line x1="33.2" y1="494.6" x2="34.2" y2="494.6" stroke="#b8b8b8" stroke-width="0.6"/>
<line x1="33.2" y1="485.8" x2="34.2" y2="485.8" stroke="#b8b8b8" stroke-width="0.6"/>
<line x1="33.2" y1="477.0" x2="34.2" y2="477.0" stroke="#b8b8b8" stroke-width="0.6"/>
<line x1="33.2" y1="468.1" x2="34.2" y2="468.1" stroke="#b8b8b8" stroke-width="0.6"/>
<line x1="34.2" y1="534.2" x2="463.5" y2="534.2" stroke="#cfcfcf" stroke-width="1"/>
<line x1="32.6" y1="466.6" x2="34.2" y2="466.6" stroke="#b0b0b0" stroke-width="0.7"/>
<text x="31.3" y="468.4" font-size="4.3" fill="#3a3a3a" text-anchor="end" letter-spacing="0.15">3838</text>
<line x1="32.6" y1="472.6" x2="34.2" y2="472.6" stroke="#b0b0b0" stroke-width="0.7"/>
<text x="31.3" y="474.4" font-size="4.3" fill="#3a3a3a" text-anchor="end" letter-spacing="0.15">3500</text>
<line x1="32.6" y1="481.4" x2="34.2" y2="481.4" stroke="#b0b0b0" stroke-width="0.7"/>
<text x="31.3" y="483.2" font-size="4.3" fill="#3a3a3a" text-anchor="end" letter-spacing="0.15">3000</text>
<line x1="32.6" y1="490.2" x2="34.2" y2="490.2" stroke="#b0b0b0" stroke-width="0.7"/>
<text x="31.3" y="492.0" font-size="4.3" fill="#3a3a3a" text-anchor="end" letter-spacing="0.15">2500</text>
<line x1="32.6" y1="499.0" x2="34.2" y2="499.0" stroke="#b0b0b0" stroke-width="0.7"/>
<text x="31.3" y="500.8" font-size="4.3" fill="#3a3a3a" text-anchor="end" letter-spacing="0.15">2000</text>
<line x1="32.6" y1="507.8" x2="34.2" y2="507.8" stroke="#b0b0b0" stroke-width="0.7"/>
<text x="31.3" y="509.6" font-size="4.3" fill="#3a3a3a" text-anchor="end" letter-spacing="0.15">1500</text>
<line x1="32.6" y1="516.6" x2="34.2" y2="516.6" stroke="#b0b0b0" stroke-width="0.7"/>
<text x="31.3" y="518.4" font-size="4.3" fill="#3a3a3a" text-anchor="end" letter-spacing="0.15">1000</text>
<line x1="32.6" y1="525.4" x2="34.2" y2="525.4" stroke="#b0b0b0" stroke-width="0.7"/>
<text x="31.3" y="527.2" font-size="4.3" fill="#3a3a3a" text-anchor="end" letter-spacing="0.15">500</text>
<line x1="32.6" y1="534.2" x2="34.2" y2="534.2" stroke="#b0b0b0" stroke-width="0.7"/>
<text x="31.3" y="536.0" font-size="4.3" fill="#3a3a3a" text-anchor="end" letter-spacing="0.15">0</text>
<line x1="62.8" y1="534.2" x2="62.8" y2="535.4" stroke="#b0b0b0" stroke-width="0.7"/>
<text x="62.8" y="538.4" font-size="4.3" fill="#3a3a3a" text-anchor="middle" letter-spacing="0.15">1.0</text>
<line x1="91.5" y1="534.2" x2="91.5" y2="535.4" stroke="#b0b0b0" stroke-width="0.7"/>
<text x="91.5" y="538.4" font-size="4.3" fill="#3a3a3a" text-anchor="middle" letter-spacing="0.15">2.0</text>
<line x1="120.1" y1="534.2" x2="120.1" y2="535.4" stroke="#b0b0b0" stroke-width="0.7"/>
<text x="120.1" y="538.4" font-size="4.3" fill="#3a3a3a" text-anchor="middle" letter-spacing="0.15">3.0</text>
<line x1="148.7" y1="534.2" x2="148.7" y2="535.4" stroke="#b0b0b0" stroke-width="0.7"/>
<text x="148.7" y="538.4" font-size="4.3" fill="#3a3a3a" text-anchor="middle" letter-spacing="0.15">4.0</text>
<line x1="177.4" y1="534.2" x2="177.4" y2="535.4" stroke="#b0b0b0" stroke-width="0.7"/>
<text x="177.4" y="538.4" font-size="4.3" fill="#3a3a3a" text-anchor="middle" letter-spacing="0.15">5.0</text>
<line x1="206.0" y1="534.2" x2="206.0" y2="535.4" stroke="#b0b0b0" stroke-width="0.7"/>
<text x="206.0" y="538.4" font-size="4.3" fill="#3a3a3a" text-anchor="middle" letter-spacing="0.15">6.0</text>
<line x1="234.6" y1="534.2" x2="234.6" y2="535.4" stroke="#b0b0b0" stroke-width="0.7"/>
<text x="234.6" y="538.4" font-size="4.3" fill="#3a3a3a" text-anchor="middle" letter-spacing="0.15">7.0</text>
<line x1="263.2" y1="534.2" x2="263.2" y2="535.4" stroke="#b0b0b0" stroke-width="0.7"/>
<text x="263.2" y="538.4" font-size="4.3" fill="#3a3a3a" text-anchor="middle" letter-spacing="0.15">8.0</text>
<line x1="291.9" y1="534.2" x2="291.9" y2="535.4" stroke="#b0b0b0" stroke-width="0.7"/>
<text x="291.9" y="538.4" font-size="4.3" fill="#3a3a3a" text-anchor="middle" letter-spacing="0.15">9.0</text>
<line x1="320.5" y1="534.2" x2="320.5" y2="535.4" stroke="#b0b0b0" stroke-width="0.7"/>
<text x="320.5" y="538.4" font-size="4.3" fill="#3a3a3a" text-anchor="middle" letter-spacing="0.15">10.0</text>
<line x1="349.1" y1="534.2" x2="349.1" y2="535.4" stroke="#b0b0b0" stroke-width="0.7"/>
<text x="349.1" y="538.4" font-size="4.3" fill="#3a3a3a" text-anchor="middle" letter-spacing="0.15">11.0</text>
<line x1="377.8" y1="534.2" x2="377.8" y2="535.4" stroke="#b0b0b0" stroke-width="0.7"/>
<text x="377.8" y="538.4" font-size="4.3" fill="#3a3a3a" text-anchor="middle" letter-spacing="0.15">12.0</text>
<line x1="406.4" y1="534.2" x2="406.4" y2="535.4" stroke="#b0b0b0" stroke-width="0.7"/>
<text x="406.4" y="538.4" font-size="4.3" fill="#3a3a3a" text-anchor="middle" letter-spacing="0.15">13.0</text>
<line x1="435.0" y1="534.2" x2="435.0" y2="535.4" stroke="#b0b0b0" stroke-width="0.7"/>
<text x="435.0" y="538.4" font-size="4.3" fill="#3a3a3a" text-anchor="middle" letter-spacing="0.15">14.0</text>
<text x="248.5" y="541.7" font-size="4.4" fill="#444" text-anchor="middle" letter-spacing="0.2">Time, min</text>
<text x="0" y="0" font-size="3.3" fill="#222" text-anchor="middle" textLength="18.2" lengthAdjust="spacingAndGlyphs" transform="translate(10.9,500.4) rotate(-90)">Intensity, cps</text>
<path d="M34.00,534.24C34.50,534.18 36.00,533.96 37.00,533.90C38.00,533.84 39.00,533.83 40.00,533.87C41.00,533.91 42.00,534.10 43.00,534.14C44.00,534.18 45.00,534.13 46.00,534.10C47.00,534.07 48.00,533.92 49.00,533.93C50.00,533.94 51.00,534.07 52.00,534.15C53.00,534.23 54.00,534.38 55.00,534.39C56.00,534.40 57.00,534.26 58.00,534.19C59.00,534.12 60.00,534.00 61.00,533.99C62.00,533.99 63.00,534.13 64.00,534.16C65.00,534.19 66.00,534.24 67.00,534.19C68.00,534.14 69.00,533.93 70.00,533.88C71.00,533.83 72.00,533.81 73.00,533.86C74.00,533.91 75.00,534.11 76.00,534.17C77.00,534.23 78.00,534.23 79.00,534.20C80.00,534.17 81.00,534.02 82.00,534.01C83.00,534.00 84.00,534.10 85.00,534.16C86.00,534.22 87.00,534.39 88.00,534.39C89.00,534.39 90.00,534.25 91.00,534.17C92.00,534.09 93.00,533.94 94.00,533.92C95.00,533.90 96.00,534.02 97.00,534.06C98.00,534.10 99.00,534.17 100.00,534.15C101.00,534.12 102.00,533.95 103.00,533.91C104.00,533.87 105.00,533.84 106.00,533.89C107.00,533.94 108.00,534.16 109.00,534.23C110.00,534.30 111.00,534.32 112.00,534.29C113.00,534.26 114.00,534.10 115.00,534.07C116.00,534.04 117.00,534.09 118.00,534.13C119.00,534.17 120.00,534.34 121.00,534.34C122.00,534.34 123.00,534.21 124.00,534.13C125.00,534.05 126.00,533.86 127.00,533.84C128.00,533.82 129.00,533.95 130.00,534.00C131.00,534.05 132.00,534.16 133.00,534.16C134.00,534.16 135.00,534.01 136.00,533.98C137.00,533.95 138.00,533.90 139.00,533.95C140.00,534.00 141.00,534.21 142.00,534.28C143.00,534.35 144.00,534.38 145.00,534.35C146.00,534.32 147.00,534.13 148.00,534.08C149.00,534.03 150.00,534.03 151.00,534.06C152.00,534.09 153.00,534.25 154.00,534.25C155.00,534.25 156.00,534.15 157.00,534.08C158.00,534.01 159.00,533.83 160.00,533.81C161.00,533.79 162.00,533.90 163.00,533.97C164.00,534.04 165.00,534.20 166.00,534.22C167.00,534.24 168.00,534.12 169.00,534.08C170.00,534.05 171.00,533.98 172.00,534.01C173.00,534.04 174.00,534.23 175.00,534.29C176.00,534.35 177.00,534.40 178.00,534.36C179.00,534.32 180.00,534.12 181.00,534.05C182.00,533.98 183.00,533.95 184.00,533.97C185.00,533.99 186.00,534.15 187.00,534.17C188.00,534.19 189.00,534.13 190.00,534.07C191.00,534.01 192.00,533.83 193.00,533.82C194.00,533.81 195.00,533.92 196.00,534.00C197.00,534.08 198.00,534.26 199.00,534.29C200.00,534.32 201.00,534.22 202.00,534.18C203.00,534.14 204.00,534.03 205.00,534.04C206.00,534.05 207.00,534.21 208.00,534.26C209.00,534.31 210.00,534.37 211.00,534.32C212.00,534.28 213.00,534.06 214.00,533.99C215.00,533.92 216.00,533.86 217.00,533.88C218.00,533.90 219.00,534.07 220.00,534.11C221.00,534.15 222.00,534.14 223.00,534.10C224.00,534.06 225.00,533.89 226.00,533.88C227.00,533.87 228.00,533.97 229.00,534.05C230.00,534.13 231.00,534.33 232.00,534.36C233.00,534.39 234.00,534.30 235.00,534.24C236.00,534.18 237.00,534.04 238.00,534.03C239.00,534.02 240.00,534.14 241.00,534.18C242.00,534.22 243.00,534.30 244.00,534.26C245.00,534.22 246.00,534.02 247.00,533.95C248.00,533.88 249.00,533.81 250.00,533.83C251.00,533.86 252.00,534.04 253.00,534.10C254.00,534.16 255.00,534.19 256.00,534.17C257.00,534.15 258.00,533.98 259.00,533.97C260.00,533.96 261.00,534.02 262.00,534.09C263.00,534.16 264.00,534.35 265.00,534.38C266.00,534.41 267.00,534.33 268.00,534.26C269.00,534.19 270.00,534.01 271.00,533.98C272.00,533.95 273.00,534.04 274.00,534.08C275.00,534.12 276.00,534.26 277.00,534.20C278.00,534.14 278.38,533.87 280.00,533.70C281.62,533.53 284.47,533.43 286.70,533.20C288.93,532.97 291.15,532.45 293.40,532.30C295.65,532.15 297.95,532.35 300.20,532.30C302.45,532.25 304.67,532.00 306.90,532.00C309.13,532.00 311.37,532.38 313.60,532.30C315.83,532.22 318.48,531.92 320.30,531.50C322.12,531.08 323.10,529.72 324.50,529.80C325.90,529.88 327.15,531.63 328.70,532.00C330.25,532.37 332.53,532.08 333.80,532.00C335.07,531.92 335.60,532.57 336.30,531.50C337.00,530.43 337.52,528.83 338.00,525.60C338.48,522.37 338.78,517.70 339.20,512.10C339.62,506.50 340.07,498.15 340.50,492.00C340.93,485.85 341.38,479.13 341.80,475.20C342.22,471.27 342.60,469.80 343.00,468.40C343.40,467.00 343.78,466.52 344.20,466.80C344.62,467.08 345.00,468.43 345.50,470.10C346.00,471.77 346.63,474.27 347.20,476.80C347.77,479.33 348.33,482.77 348.90,485.30C349.47,487.83 349.98,489.63 350.60,492.00C351.22,494.37 351.90,497.27 352.60,499.50C353.30,501.73 354.02,503.30 354.80,505.40C355.58,507.50 356.43,510.13 357.30,512.10C358.17,514.07 358.95,515.47 360.00,517.20C361.05,518.93 362.38,521.45 363.60,522.50C364.82,523.55 366.05,523.50 367.30,523.50C368.55,523.50 369.97,522.78 371.10,522.50C372.23,522.22 373.05,521.50 374.10,521.80C375.15,522.10 376.22,523.47 377.40,524.30C378.58,525.13 379.93,526.18 381.20,526.80C382.47,527.42 383.75,527.28 385.00,528.00C386.25,528.72 387.23,530.47 388.70,531.10C390.17,531.73 391.70,531.55 393.80,531.80C395.90,532.05 398.78,532.47 401.30,532.60C403.82,532.73 406.37,532.52 408.90,532.60C411.43,532.68 413.98,533.23 416.50,533.10C419.02,532.97 421.92,531.80 424.00,531.80C426.08,531.80 426.48,532.80 429.00,533.10C431.52,533.40 435.32,533.52 439.10,533.60C442.88,533.68 447.92,533.68 451.70,533.60C455.48,533.52 460.12,533.18 461.80,533.10" fill="none" stroke="#8484f6" stroke-width="0.9" stroke-linejoin="round"/>
<rect x="32" y="530.0" width="1.8" height="2" fill="#1414e6"/>
<text x="299.3" y="530.1" font-size="4.3" fill="#4a4a4a" letter-spacing="0.18">9.44</text>
<text x="320.0" y="530.1" font-size="4.3" fill="#4a4a4a" letter-spacing="0.18">10.19</text>
<text x="338.0" y="528.8" font-size="4.3" fill="#4a4a4a" letter-spacing="0.18">10.81</text>
<text x="369.9" y="519.0" font-size="4.3" fill="#4a4a4a" letter-spacing="0.18">11.82</text>
<text x="379.9" y="524.5" font-size="4.3" fill="#4a4a4a" letter-spacing="0.18">12.07</text>
<text x="401.3" y="530.3" font-size="4.3" fill="#4a4a4a" letter-spacing="0.18">13.02</text>
<text x="422.8" y="530.3" font-size="4.3" fill="#4a4a4a" letter-spacing="0.18">13.78</text>
<text x="446.35" y="472.0" font-size="12.3" fill="#151515" stroke="#151515" stroke-width="0.12">3</text>
<text x="456.25" y="472.0" font-size="11.8" fill="#151515" stroke="#151515" stroke-width="0.12">b</text>
<text x="315.46" y="211.6" font-size="12.50" fill="#151515" stroke="#151515" stroke-width="0.15" textLength="20.91" lengthAdjust="spacingAndGlyphs">TBT</text>
<text x="309.95" y="297.0" font-size="13.08" fill="#151515" stroke="#151515" stroke-width="0.25" textLength="27.72" lengthAdjust="spacingAndGlyphs">TPhT</text>
<text x="315.46" y="391.8" font-size="12.65" fill="#151515" stroke="#151515" stroke-width="0.15" textLength="20.91" lengthAdjust="spacingAndGlyphs">TBT</text>
<text x="309.75" y="483.0" font-size="12.79" fill="#151515" stroke="#151515" stroke-width="0.25" textLength="27.62" lengthAdjust="spacingAndGlyphs">TPhT</text>
<line x1="279.4" y1="281.8" x2="279.4" y2="344" stroke="#b0b0f4" stroke-width="0.75"/>
<line x1="6" y1="176.4" x2="469" y2="176.4" stroke="#9a9a9a" stroke-width="1.1"/>
<line x1="6" y1="351.4" x2="469" y2="351.4" stroke="#9a9a9a" stroke-width="1.1"/>
<line x1="6.4" y1="9.2" x2="469" y2="9.2" stroke="#808080" stroke-width="1.5"/>
<line x1="6.4" y1="8.5" x2="6.4" y2="542.8" stroke="#4a4a4a" stroke-width="1.4"/>
<line x1="469" y1="8.5" x2="469" y2="542.8" stroke="#787878" stroke-width="2"/>
<line x1="5.8" y1="542.7" x2="470" y2="542.7" stroke="#666" stroke-width="1.6"/>
</svg>
</body></html>
